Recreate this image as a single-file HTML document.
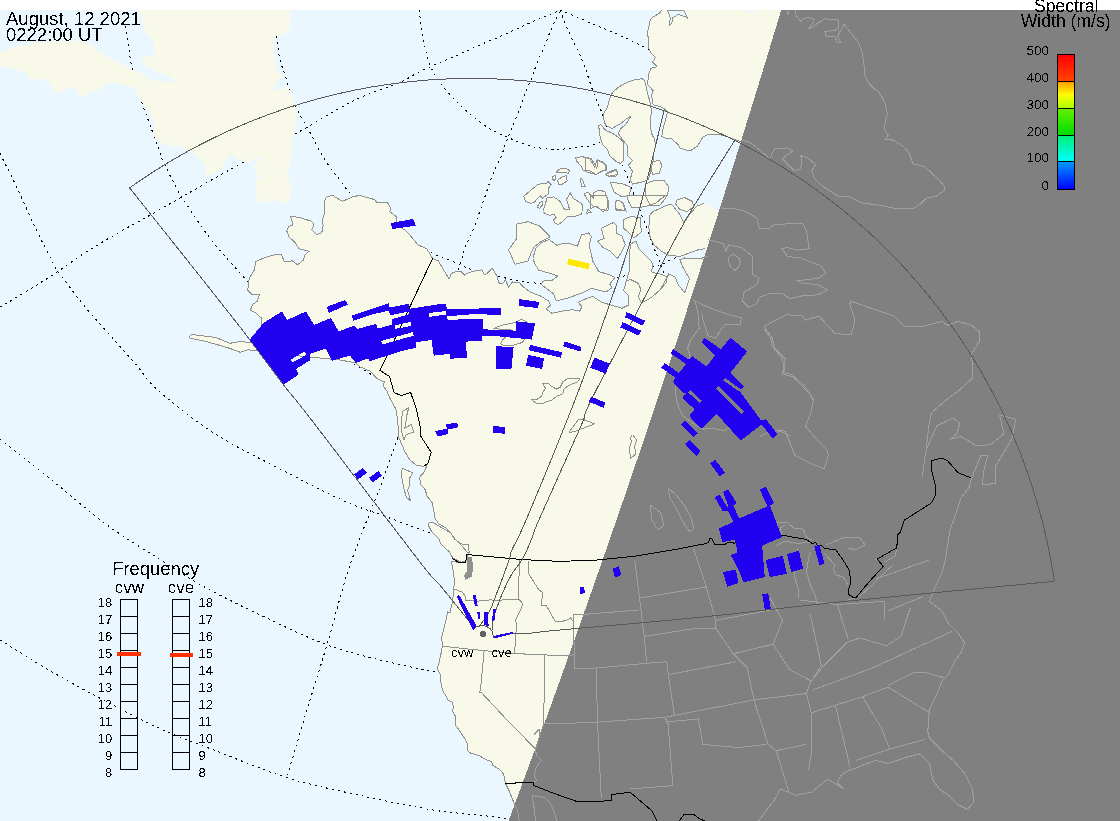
<!DOCTYPE html>
<html><head><meta charset="utf-8"><style>
html,body{margin:0;padding:0;background:#fff;width:1120px;height:821px;overflow:hidden}
svg{display:block;font-family:"Liberation Sans",sans-serif}
</style></head><body>
<svg width="1120" height="821" viewBox="0 0 1120 821" shape-rendering="crispEdges">
<defs><linearGradient id="g5" x1="0" y1="0" x2="0" y2="1"><stop offset="0.00" stop-color="#ff0000"/><stop offset="1.00" stop-color="#ff4400"/></linearGradient><linearGradient id="g4" x1="0" y1="0" x2="0" y2="1"><stop offset="0.00" stop-color="#ff9900"/><stop offset="0.50" stop-color="#ffff00"/><stop offset="1.00" stop-color="#aaff00"/></linearGradient><linearGradient id="g3" x1="0" y1="0" x2="0" y2="1"><stop offset="0.00" stop-color="#66ee00"/><stop offset="1.00" stop-color="#00dd00"/></linearGradient><linearGradient id="g2" x1="0" y1="0" x2="0" y2="1"><stop offset="0.00" stop-color="#00ee77"/><stop offset="1.00" stop-color="#00ffff"/></linearGradient><linearGradient id="g1" x1="0" y1="0" x2="0" y2="1"><stop offset="0.00" stop-color="#0099ff"/><stop offset="1.00" stop-color="#0000ff"/></linearGradient><filter id="crisp" x="0" y="0" width="1" height="1"><feComponentTransfer><feFuncA type="discrete" tableValues="0 1"/></feComponentTransfer></filter></defs>
<rect x="0" y="10" width="1120" height="811" fill="#eaf7ff"/>
<g fill="none" stroke="#000" stroke-width="1" stroke-dasharray="2 4" shape-rendering="crispEdges"><path d="M419.0,10.0 C419.8,15.3 422.2,32.8 424.0,42.0 C425.8,51.2 427.0,57.8 430.0,65.0 C433.0,72.2 436.7,78.0 442.0,85.0 C447.3,92.0 454.5,100.0 462.0,107.0 C469.5,114.0 479.5,122.0 487.0,127.0 C494.5,132.0 499.8,133.8 507.0,137.0 C514.2,140.2 522.8,144.0 530.0,146.0 C537.2,148.0 544.3,148.5 550.0,149.0 C555.7,149.5 559.2,149.3 564.0,149.0 C568.8,148.7 574.7,147.5 579.0,147.0 C583.3,146.5 586.8,146.6 590.0,146.0 C593.2,145.4 590.2,145.9 598.5,143.2 C606.8,140.5 633.1,132.2 640.0,130.0"/><path d="M276.0,36.5 C276.3,38.2 277.3,43.1 278.0,47.0 C278.7,50.9 278.8,55.3 280.0,60.0 C281.2,64.7 282.5,67.5 285.0,75.0 C287.5,82.5 291.3,96.3 295.0,105.0 C298.7,113.7 302.0,117.8 307.0,127.0 C312.0,136.2 319.5,151.2 325.0,160.0 C330.5,168.8 335.5,174.2 340.0,180.0 C344.5,185.8 343.7,187.0 352.0,195.0 C360.3,203.0 376.7,218.3 390.0,228.0 C403.3,237.7 422.8,248.0 432.0,253.0 C441.2,258.0 440.2,256.0 445.0,258.0 C449.8,260.0 456.2,262.9 461.0,265.0 C465.8,267.1 468.0,268.7 474.0,270.5 C480.0,272.3 490.2,274.4 497.0,276.0 C503.8,277.6 508.7,278.8 515.0,280.0 C521.3,281.2 527.5,282.5 535.0,283.0 C542.5,283.5 546.7,283.9 560.0,283.0 C573.3,282.1 603.8,278.8 615.0,277.5 C626.2,276.2 619.2,277.2 627.0,275.0 C634.8,272.8 654.8,266.5 662.0,264.0 C669.2,261.5 666.8,261.3 670.0,260.0 C673.2,258.7 677.7,257.2 681.0,256.0 C684.3,254.8 683.5,255.7 690.0,253.0 C696.5,250.3 715.0,242.2 720.0,240.0"/><path d="M125.6,26.0 C126.7,33.0 129.6,56.2 132.0,68.0 C134.4,79.8 137.0,87.5 140.0,97.0 C143.0,106.5 146.8,116.2 150.0,125.0 C153.2,133.8 156.9,144.2 159.0,150.0 C161.1,155.8 159.8,154.2 162.5,160.0 C165.2,165.8 171.2,178.0 175.0,185.0 C178.8,192.0 178.7,192.5 185.0,202.0 C191.3,211.5 202.5,228.7 213.0,242.0 C223.5,255.3 233.5,265.7 248.0,282.0 C262.5,298.3 283.0,326.7 300.0,340.0 C317.0,353.3 336.7,355.3 350.0,362.0 C363.3,368.7 375.0,377.0 380.0,380.0"/><path d="M0.0,153.6 C2.9,159.3 11.4,175.9 17.1,187.8 C22.8,199.8 28.4,213.4 34.1,225.3 C39.8,237.2 47.2,251.7 51.2,259.4 C55.2,267.1 52.3,263.4 58.0,271.4 C63.7,279.4 76.2,296.1 85.3,307.2 C94.4,318.3 104.1,328.2 112.6,337.9 C121.1,347.6 128.8,356.4 136.5,365.2 C144.2,374.0 145.5,379.4 158.6,390.8 C171.7,402.2 193.8,420.3 214.8,433.7 C235.8,447.1 263.1,460.1 284.6,471.3 C306.1,482.5 326.6,493.2 343.6,500.8 C360.6,508.4 372.3,511.5 386.6,516.9 C400.9,522.3 422.4,530.3 429.5,533.0"/><path d="M0.0,439.0 C9.0,446.2 36.2,467.7 54.0,482.0 C71.8,496.3 90.0,512.5 107.0,525.0 C124.0,537.5 140.7,547.2 156.0,557.0 C171.3,566.8 183.0,575.0 199.0,584.0 C215.0,593.0 231.5,601.2 252.0,611.0 C272.5,620.8 301.3,635.0 322.0,643.0 C342.7,651.0 356.3,654.0 376.0,659.0 C395.7,664.0 429.3,670.7 440.0,673.0"/><path d="M0.0,640.0 C9.0,645.5 36.2,662.7 54.0,673.0 C71.8,683.3 89.2,692.7 107.0,702.0 C124.8,711.3 143.0,720.9 161.0,729.0 C179.0,737.1 194.3,742.5 215.0,750.5 C235.7,758.5 262.7,769.9 285.0,777.0 C307.3,784.1 324.8,787.6 349.0,793.0 C373.2,798.4 408.5,805.8 430.0,809.5 C451.5,813.2 465.1,813.5 478.0,815.0 C490.9,816.5 502.6,817.9 507.5,818.5"/><path d="M0.0,307.2 C5.7,303.8 24.4,292.7 34.1,286.7 C43.8,280.7 49.5,277.1 58.0,271.4 C66.5,265.7 75.1,259.1 85.3,252.6 C95.5,246.1 108.6,238.3 119.4,232.1 C130.2,225.8 134.2,224.1 150.1,215.1 C166.0,206.1 199.7,186.7 215.0,178.0 C230.3,169.3 228.7,170.3 242.0,163.0 C255.3,155.7 284.2,139.9 295.0,134.0 C305.8,128.1 297.0,133.2 307.0,127.5 C317.0,121.8 339.5,107.5 355.0,100.0 C370.5,92.5 390.6,86.5 400.0,82.5 C409.4,78.5 406.5,78.7 411.7,76.0 C416.9,73.3 424.0,69.5 431.2,66.3 C438.4,63.0 446.8,59.9 454.6,56.5 C462.4,53.1 469.9,49.4 478.0,45.8 C486.1,42.2 494.9,38.8 503.3,35.1 C511.8,31.4 520.6,27.0 528.7,23.4 C536.8,19.8 547.1,15.7 552.0,13.6 C556.9,11.5 557.0,11.4 558.0,11.0"/><path d="M559.8,11.7 C558.5,14.3 554.6,21.5 552.0,27.3 C549.4,33.1 546.8,40.6 544.2,46.8 C541.6,53.0 538.4,59.4 536.5,64.3 C534.6,69.2 534.2,71.8 532.6,76.0 C531.0,80.2 528.7,84.8 526.7,89.7 C524.8,94.6 522.9,100.1 520.9,105.3 C518.9,110.5 517.0,116.0 515.0,120.9 C513.0,125.8 510.8,130.6 509.2,134.5 C507.6,138.4 506.6,140.6 505.3,144.2 C504.0,147.8 503.5,150.8 501.4,155.9 C499.3,161.0 495.4,167.7 492.5,175.0 C489.6,182.3 486.4,192.5 483.8,200.0 C481.1,207.5 478.9,213.9 476.7,220.0 C474.5,226.1 472.4,231.7 470.3,236.6 C468.2,241.5 465.6,244.9 463.9,249.4 C462.2,253.9 465.8,246.7 460.1,263.5 C454.5,280.3 440.4,321.0 430.0,350.0 C419.6,379.0 404.9,418.4 397.9,437.7 C390.8,457.0 390.7,457.3 387.7,465.8 C384.7,474.3 382.0,483.4 380.0,488.8 C378.0,494.2 381.0,484.8 375.8,498.0 C370.6,511.2 357.1,543.8 349.0,568.0 C340.9,592.2 334.7,618.8 327.5,643.0 C320.3,667.2 312.8,690.7 306.0,713.0 C299.2,735.3 290.2,766.3 287.0,777.0"/><path d="M560.0,10.0 C562.5,11.0 569.4,13.8 575.0,16.2 C580.6,18.6 587.9,21.9 593.8,24.4 C599.6,26.9 604.4,28.9 610.0,31.2 C615.6,33.6 621.7,36.0 627.5,38.8 C633.3,41.5 632.9,41.5 645.0,47.5 C657.1,53.5 690.8,70.4 700.0,75.0"/><path d="M560.0,10.0 C561.2,13.1 565.0,22.9 567.5,28.8 C570.0,34.6 572.9,40.6 575.0,45.0 C577.1,49.4 578.3,51.2 580.0,55.0 C581.7,58.8 583.3,62.9 585.0,67.5 C586.7,72.1 588.3,77.5 590.0,82.5 C591.7,87.5 593.5,93.2 595.3,97.7 C597.1,102.2 599.6,106.7 600.8,109.6 C602.0,112.5 598.7,105.8 602.4,115.2 C606.1,124.6 618.4,154.5 623.0,166.0 C627.6,177.5 626.8,175.5 630.0,184.0 C633.2,192.5 639.7,209.5 642.5,217.0 C645.3,224.5 645.1,223.8 647.0,229.0 C648.9,234.2 652.0,242.8 654.0,248.0 C656.0,253.2 657.0,254.8 659.0,260.0 C661.0,265.2 662.5,270.7 666.0,279.0 C669.5,287.3 677.7,304.8 680.0,310.0"/></g>
<g fill="#f9f9ea"><path d="M139,10 L290,10 L290,28 L284,35 L276,36 L273,43 L275,56 L277,72 L284,76 L279,79 L272,89 L279,90 L288,86 L293,98 L296,112 L295,129 L292,141 L291,160 L290,164 L287,175 L291,184 L290,200 L282,203 L275,200 L259,203 L256,195 L256,182 L259,177 L254,167 L260,158 L257,157 L248,163 L235,158 L232,153 L229,154 L227,160 L217,173 L206,176 L206,167 L202,160 L193,153 L182,147 L175,146 L164,144 L157,139 L152,135 L155,128 L153,117 L146,108 L141,99 L137,95 L135,88 L128,86 L111,82 L104,84 L102,89 L91,91 L86,95 L79,97 L77,89 L69,88 L58,93 L53,91 L51,84 L42,79 L29,79 L27,73 L11,68 L0,67 L0,53 L11,48 L27,44 L55,41 L82,41 L91,44 L99,51 L110,58 L120,63 L131,69 L141,73 L150,80 L164,82 L174,83 L173,80 L168,75 L159,73 L146,66 L141,60 L146,57 L155,55 L155,47 L153,40 L146,33 Z" /><path d="M325.7,197.6 L332.1,195 L342.3,201.4 L353.8,196.3 L360.2,195.6 L374.3,199.5 L377.1,202.5 L387.5,202.5 L390.7,208.6 L389.6,211.8 L394.3,215 L396.8,217.5 L396.8,221.8 L402.1,228.2 L405.7,230.7 L409,234.1 L412.9,238.6 L417.9,244.9 L426.9,248.8 L432.6,258.4 L438.4,260.9 L443.5,269.9 L449.2,278.8 L451.2,273.7 L456.3,271.2 L461.4,271.8 L464.6,275 L469.1,272.4 L476.7,270.5 L481.8,269.9 L484.4,275 L487,273.7 L492.1,268 L497.2,276.3 L498.5,282.7 L502.3,283.9 L505.5,280.1 L508.7,287.1 L512.5,282 L519.6,282.7 L522.8,286.5 L530,292 L540.2,295.8 L548.3,300.9 L550.5,305.3 L546.1,308.9 L551.9,313.3 L562.2,311.1 L572.4,309.6 L579.7,311.1 L581.9,306.7 L578.2,302.3 L586.3,298.7 L592.9,296.5 L601.6,302.3 L611.9,305.3 L622.1,308.2 L628,305.3 L628,295 L623.6,290.6 L626.5,280.4 L630.9,279.7 L638.2,283.3 L641.1,289.9 L638.2,296.5 L641.1,302.3 L645.5,300.9 L652,297 L660,290 L665.6,280.2 L668.8,273.9 L675.1,277 L678.3,284.9 L684.6,292.8 L689.4,278.6 L683,267.5 L679.9,259.6 L684.6,258 L690,258.2 L694.6,259 L702.2,258.2 L705.2,256.7 L707.5,256 L760,249 L1120,290 L1120,821 L530,821 L513.8,802.5 L508.9,790.2 L505.2,782.8 L504.6,777.8 L502.8,772.9 L499.1,769.2 L492.9,765.5 L491.7,761.8 L485.5,759.4 L479.4,755.7 L470.8,753.2 L467.7,750.8 L467.1,743.4 L464.6,738.5 L459.7,731.1 L455.5,725 L455.6,716.5 L452.7,711.4 L453.4,706.3 L451.9,701.9 L448.3,700.4 L446.1,696 L442.4,690.2 L441,682.9 L440.2,674.1 L437.3,668.2 L438.8,663.9 L441,653.6 L442.4,646.3 L441.7,637.5 L443.9,628.8 L446.1,620 L447.5,612 L450.1,612.1 L452.6,601.8 L453.9,587.8 L454.5,580.1 L453.2,571.2 L451.3,561.6 L458.4,562.2 L465.4,562.8 L466.7,557.1 L468.6,553.9 L462,546 L455,539 L450.7,532.8 L445.6,527.7 L438.8,524 L435,518.2 L432.4,502.9 L427.3,496.5 L424.8,488.8 L420.9,485 L419.6,477.3 L424.1,472.2 L427.3,464.5 L423.5,466.4 L416,465 L410,460 L405,452 L402,445 L399,438 L398.5,429.5 L397.2,416.7 L395.9,409.1 L389.5,397.5 L387,391.2 L383.1,386 L384.4,381.6 L381.8,380.9 L376.7,378.4 L370.3,371.3 L360.1,366.9 L356.3,363 L340,360 L320,358 L300,356 L285,352 L268,350 L256.7,351 L247.8,349.7 L240.1,352.2 L229.9,348.4 L217.1,344.6 L203,340.7 L190.2,338.2 L189.6,336.3 L191.5,334.3 L200.5,335.6 L215.8,337.5 L229.9,343.3 L240.1,341.4 L250.3,342.7 L258,338 L261.8,325.4 L261.8,318.4 L255.4,312.6 L250.3,310 L252.9,304.3 L257.4,301.1 L259.3,294.7 L251.6,294.1 L247.8,290.2 L249,280 L250.2,276.8 L254.1,270.4 L256,261.5 L264.3,257.7 L275.8,254.5 L281.6,254.5 L284.1,261.5 L292.4,260.9 L297.5,264.7 L303.3,260.2 L305.2,254.5 L309.1,251.3 L298.8,248.7 L295,242.3 L289.2,237.2 L286.7,230.8 L288.6,226.3 L293.1,225 L291.8,220.6 L290.5,216.1 L298.8,217.4 L311.6,221.2 L314.2,225 L311.6,229.5 L316.7,234.6 L321.8,232.7 L323.1,225.7 L322.5,219.3 L325,212.9 L324.4,202.7 Z" /><path d="M661.8,10 L800,10 L800,160 L741,141.5 L736,140 L725,136 L717,134 L709,134 L703,137 L697.5,146 L690,151 L686,150 L680,148 L678,144.5 L672,139 L667.4,138.9 L661.8,136.5 L662.6,130.2 L665.8,119.1 L667.4,112 L664.2,108.8 L659.5,106.4 L653.1,104.9 L651.5,95.4 L653.1,90.6 L647.6,84.3 L648.6,74.5 L650.9,68.3 L657.1,66.8 L652.5,62.1 L655.6,57.5 L650.9,52.9 L648.6,48.2 L648.6,38.9 L647.1,32.7 L648.6,28.1 L650.2,20.4 L652.5,17.3 L659.4,13.4 Z" /><path d="M612.7,92.2 L618.3,87.4 L626.2,82.7 L635.7,79.5 L642,78.7 L644.4,80.3 L646,85.8 L647.6,93.8 L650,101.7 L651.5,111.2 L650,122.3 L651.5,133.4 L654.7,139.7 L655.5,146.1 L653.9,152.4 L653.1,160.3 L651,170 L648.4,179.3 L643.6,181.7 L632.5,184.1 L630.2,179.3 L632.5,171.4 L628.6,165.1 L632.5,160.3 L627.8,155.6 L627.8,146.1 L623.8,141.3 L618.3,133.4 L620.7,128.6 L626.2,123.9 L631,116 L626.2,119.1 L619.9,123.9 L611.9,128.6 L605.6,125.5 L603.2,117.5 L604,112.8 L607.2,108 L608.8,101.7 L611.1,95.4 Z" /><path d="M598.5,125.5 L600.8,124.7 L605.6,130.2 L612.7,133.4 L618,137 L623,141.3 L624,148 L623.8,154 L623.8,160.3 L620.7,163.5 L616.7,161.9 L609.6,155.6 L607.2,149.2 L602.4,144.5 L600.1,136.5 L599.3,130.2 Z" /><path d="M651.5,161.9 L659.5,160.3 L661.8,165.1 L659.5,173 L653.1,174.6 L650,168 Z" /><path d="M645.2,184.1 L653.1,180.9 L664.2,180.9 L669,187.3 L667.4,195.2 L664.2,200 L660,205 L650,205 L646,197 Z" /><path d="M585,157.1 L591.3,158.7 L596.9,168.2 L597.7,160.3 L602.4,161.9 L605.6,165.1 L605.6,169.8 L596.1,174.6 L585,171.4 Z" /><path d="M605.6,174.6 L616.7,169.8 L617.5,174.6 L608.8,176.2 Z" /><path d="M610.4,182.5 L621.4,183.3 L631,187.3 L629.4,195.2 L622,197 L614,192 Z" /><path d="M523.7,196.3 L532,189.2 L538.4,184.1 L546.7,183.5 L548,181.6 L551.2,184.8 L548.6,188 L548.6,193.7 L542.8,198.2 L540.3,195.6 L537.7,198.2 L533.9,202.7 L530.7,203.3 L525.6,201.4 Z" /><path d="M537.1,207.1 L539.6,202.7 L542.2,201.4 L542.2,205.2 L539.6,208.4 Z" /><path d="M542.8,211.6 L547.3,197.5 L553.7,196.9 L560.1,201.4 L564.6,209.7 L569.7,209.7 L566.5,199.5 L570.3,193.1 L573.5,198.8 L580.6,202.7 L582.5,205.2 L581.8,214.2 L574.2,216.7 L567.1,216.7 L561.4,222.5 L558.2,224.4 L555,223.1 L553.7,219.9 L556.3,217.4 L553.7,214.2 L549.9,215.4 L546,214.2 Z" /><path d="M551.8,177.7 L555,175.2 L555.6,179.6 L553.7,180.3 Z" /><path d="M557.5,180.3 L562.7,176.4 L566.5,175.8 L567.1,180.9 L561.4,184.8 L558.8,184.1 Z" /><path d="M556.3,172 L560.1,168.8 L565.2,168.1 L569.7,170.7 L568.4,173.2 L562.7,172.6 L556.9,172.6 Z" /><path d="M579.9,179 L581.8,178.4 L585,186 L581.8,186 Z" /><path d="M575.4,157.9 L581.8,156.6 L589.5,158.5 L594.6,166.9 L597.2,159.8 L606.1,164.9 L606.8,170.1 L601,171.3 L595.9,174.5 L589.5,170.7 L583.1,170.1 L580.6,165.6 L576.7,161.1 Z" /><path d="M604.9,174.5 L611.3,170.7 L616.4,169.4 L617.6,173.2 L615.7,176.4 L610,176.4 Z" /><path d="M583.8,193.7 L588.2,192.4 L593.4,198.2 L594,192.4 L599.1,189.9 L604.9,191.8 L608.1,200.1 L608.7,209.7 L602.3,211.6 L597.2,206.5 L593.4,206.5 L589.5,202.7 Z" /><path d="M586.3,213.5 L588.2,209.1 L590.8,212.2 Z" /><path d="M615.1,201.4 L618.9,200.1 L623.4,203.9 L626,211 L616.4,210.3 Z" /><path d="M516.6,224.1 L527.9,221.7 L539.1,225.7 L550.3,237 L542,241 L534.3,246.6 L531.1,253 L527.9,261 L515,264.3 L508.6,249.8 L516.6,238.6 Z" /><path d="M532.9,258.5 L535.8,248.2 L541,243 L549,239.5 L557,245.3 L563.6,243.1 L570.9,243.9 L577.5,246.1 L581.2,235.1 L588.5,232.9 L591.4,236.5 L589.2,245.3 L592.9,261.4 L598.7,271.6 L608.9,274.6 L614.8,277.5 L609.7,284.1 L611.9,287.7 L606,292.1 L598,290 L591.4,288.5 L584.1,292.1 L568,298 L556.3,300.9 L553.4,293.6 L541.7,284.8 L542.4,281.1 L551.9,280.4 L557.8,276 L549,273.1 L538.8,270.2 L535.1,264.3 Z" /><path d="M623.9,219.3 L630.9,216.7 L640.5,217.4 L641.2,232.1 L634.1,237.9 L623.9,228.3 Z" /><path d="M601.5,228.3 L606.6,225.7 L613.7,222.5 L616.9,225.7 L616.9,233.4 L622,235.9 L625.2,244.9 L622,251.3 L617.5,258.3 L610.5,251.3 L602.8,247.5 L597.7,241.1 L604.1,238.5 L602.2,232.1 Z" /><path d="M590,195 L606.6,195 L607.9,202.7 L606.6,210.4 L600.2,209.1 L595.1,206.5 L590,209.1 Z" /><path d="M615,202 L618.8,200.1 L622.6,202.7 L625.2,210.4 L615.6,209.1 Z" /><path d="M627.1,195 L666.8,195 L661.6,198.2 L656.5,202.7 L647.6,205.9 L638.6,207.8 L632.2,207.8 L628.4,201.4 Z" /><path d="M650.1,214.2 L652.7,211.6 L661.6,207.8 L666.8,205.2 L671.9,204.6 L679.5,214.2 L683.4,221.9 L696.2,206.5 L703.9,203.3 L712,207.8 L740,220 L720,248 L705.1,248.7 L697.5,250 L687.2,253.8 L679.5,256.4 L668,255.1 L661.6,251.3 L654,244.9 L650.1,237.2 L648.8,227 Z" /><path d="M677,200.1 L684.7,197.6 L692.3,201.4 L693.6,206.5 L687.2,211.6 L679.5,209.1 L675.7,204 Z" /><path d="M630.9,244 L636,241 L638.6,248.7 L645,255.1 L651.4,261.5 L652.7,265.4 L651.4,271.8 L655.2,273 L661.6,274.3 L666.8,276.9 L666.8,282 L660,290 L652,297 L645.5,300.9 L641.1,302.3 L638.2,296.5 L641.1,289.9 L638.2,283.3 L630.9,279.7 L626.5,280.4 L629.7,269.2 L629,255.1 Z" /><path d="M428.3,523.2 L432.1,521.9 L440.5,527 L450.7,532.8 L454.5,539.2 L462.2,544.3 L468,544.3 L469.2,552 L466,560.9 L460.9,562.2 L453.2,558.4 L449.4,552 L440.5,543.7 L439.2,539.2 L431.5,531.5 L429,526.4 Z" /><path d="M402.4,468.4 L412.6,472.8 L409.4,478.6 L409.4,486.3 L407.5,490.1 L410.7,501 L406.2,497.1 L403.7,487.5 L401.1,474.8 Z" /><path d="M402.3,411.6 L408.7,407.8 L406.8,415.4 L404.9,428.2 L411.3,424.4 L413.8,432.1 L406.1,434.6 L404,440 L401,430 Z" /></g>
<g fill="#eaf7ff"><path d="M667.2,10 L670.3,17.3 L669.5,25 L671.8,23.5 L672.6,17.3 L675.7,16.5 L678,14.2 L686.5,17.3 L688.1,18.8 L683.4,10 Z" /><path d="M746.8,10 L749.2,12.6 L753,13.4 L755.3,10 Z" /></g>
<path d="M781.222,10 L778.809,18 L776.392,26 L773.968,34 L771.54,42 L769.106,50 L766.666,58 L764.221,66 L761.771,74 L759.315,82 L756.854,90 L754.387,98 L751.915,106 L749.437,114 L746.954,122 L744.466,130 L741.972,138 L739.472,146 L736.967,154 L734.457,162 L731.941,170 L729.419,178 L726.892,186 L724.36,194 L721.822,202 L719.279,210 L716.73,218 L714.175,226 L711.616,234 L709.05,242 L706.479,250 L703.903,258 L701.321,266 L698.733,274 L696.14,282 L693.542,290 L690.938,298 L688.328,306 L685.713,314 L683.092,322 L680.466,330 L677.834,338 L675.197,346 L672.554,354 L669.905,362 L667.251,370 L664.592,378 L661.926,386 L659.256,394 L656.579,402 L653.897,410 L651.21,418 L648.517,426 L645.818,434 L643.114,442 L640.404,450 L637.688,458 L634.967,466 L632.241,474 L629.508,482 L626.77,490 L624.027,498 L621.278,506 L618.523,514 L615.762,522 L612.996,530 L610.224,538 L607.447,546 L604.664,554 L601.875,562 L599.081,570 L596.281,578 L593.475,586 L590.664,594 L587.847,602 L585.025,610 L582.196,618 L579.362,626 L576.522,634 L573.677,642 L570.826,650 L567.969,658 L565.107,666 L562.239,674 L559.365,682 L556.485,690 L553.6,698 L550.709,706 L547.812,714 L544.909,722 L542.001,730 L539.087,738 L536.168,746 L533.242,754 L530.311,762 L527.374,770 L524.431,778 L521.483,786 L518.529,794 L515.569,802 L512.603,810 L509.631,818 L508.516,821 L1120,821 L1120,10 Z" fill="#808080"/>
<clipPath id="nclip"><path d="M781.222,10 L778.809,18 L776.392,26 L773.968,34 L771.54,42 L769.106,50 L766.666,58 L764.221,66 L761.771,74 L759.315,82 L756.854,90 L754.387,98 L751.915,106 L749.437,114 L746.954,122 L744.466,130 L741.972,138 L739.472,146 L736.967,154 L734.457,162 L731.941,170 L729.419,178 L726.892,186 L724.36,194 L721.822,202 L719.279,210 L716.73,218 L714.175,226 L711.616,234 L709.05,242 L706.479,250 L703.903,258 L701.321,266 L698.733,274 L696.14,282 L693.542,290 L690.938,298 L688.328,306 L685.713,314 L683.092,322 L680.466,330 L677.834,338 L675.197,346 L672.554,354 L669.905,362 L667.251,370 L664.592,378 L661.926,386 L659.256,394 L656.579,402 L653.897,410 L651.21,418 L648.517,426 L645.818,434 L643.114,442 L640.404,450 L637.688,458 L634.967,466 L632.241,474 L629.508,482 L626.77,490 L624.027,498 L621.278,506 L618.523,514 L615.762,522 L612.996,530 L610.224,538 L607.447,546 L604.664,554 L601.875,562 L599.081,570 L596.281,578 L593.475,586 L590.664,594 L587.847,602 L585.025,610 L582.196,618 L579.362,626 L576.522,634 L573.677,642 L570.826,650 L567.969,658 L565.107,666 L562.239,674 L559.365,682 L556.485,690 L553.6,698 L550.709,706 L547.812,714 L544.909,722 L542.001,730 L539.087,738 L536.168,746 L533.242,754 L530.311,762 L527.374,770 L524.431,778 L521.483,786 L518.529,794 L515.569,802 L512.603,810 L509.631,818 L508.516,821 L1120,821 L1120,10 Z" /></clipPath>
<g fill="none" stroke="#909090" stroke-width="1"><path d="M325.7,197.6 L332.1,195 L342.3,201.4 L353.8,196.3 L360.2,195.6 L374.3,199.5 L377.1,202.5 L387.5,202.5 L390.7,208.6 L389.6,211.8 L394.3,215 L396.8,217.5 L396.8,221.8 L402.1,228.2 L405.7,230.7 L409,234.1 L412.9,238.6 L417.9,244.9 L426.9,248.8 L432.6,258.4 L438.4,260.9 L443.5,269.9 L449.2,278.8 L451.2,273.7 L456.3,271.2 L461.4,271.8 L464.6,275 L469.1,272.4 L476.7,270.5 L481.8,269.9 L484.4,275 L487,273.7 L492.1,268 L497.2,276.3 L498.5,282.7 L502.3,283.9 L505.5,280.1 L508.7,287.1 L512.5,282 L519.6,282.7 L522.8,286.5 L530,292 L540.2,295.8 L548.3,300.9 L550.5,305.3 L546.1,308.9 L551.9,313.3 L562.2,311.1 L572.4,309.6 L579.7,311.1 L581.9,306.7 L578.2,302.3 L586.3,298.7 L592.9,296.5 L601.6,302.3 L611.9,305.3 L622.1,308.2 L628,305.3 L628,295 L623.6,290.6 L626.5,280.4 L630.9,279.7 L638.2,283.3 L641.1,289.9 L638.2,296.5 L641.1,302.3 L645.5,300.9 L652,297 L660,290 L665.6,280.2 L668.8,273.9 L675.1,277 L678.3,284.9 L684.6,292.8 L689.4,278.6 L683,267.5 L679.9,259.6 L684.6,258 L690,258.2 L694.6,259 L702.2,258.2 L705.2,256.7 L707.5,256 M513.8,802.5 L508.9,790.2 L505.2,782.8 L504.6,777.8 L502.8,772.9 L499.1,769.2 L492.9,765.5 L491.7,761.8 L485.5,759.4 L479.4,755.7 L470.8,753.2 L467.7,750.8 L467.1,743.4 L464.6,738.5 L459.7,731.1 L455.5,725 L455.6,716.5 L452.7,711.4 L453.4,706.3 L451.9,701.9 L448.3,700.4 L446.1,696 L442.4,690.2 L441,682.9 L440.2,674.1 L437.3,668.2 L438.8,663.9 L441,653.6 L442.4,646.3 L441.7,637.5 L443.9,628.8 L446.1,620 L447.5,612 L450.1,612.1 L452.6,601.8 L453.9,587.8 L454.5,580.1 L453.2,571.2 L451.3,561.6 L458.4,562.2 L465.4,562.8 L466.7,557.1 L468.6,553.9 L462,546 L455,539 L450.7,532.8 L445.6,527.7 L438.8,524 L435,518.2 L432.4,502.9 L427.3,496.5 L424.8,488.8 L420.9,485 L419.6,477.3 L424.1,472.2 L427.3,464.5 L423.5,466.4 L416,465 L410,460 L405,452 L402,445 L399,438 L398.5,429.5 L397.2,416.7 L395.9,409.1 L389.5,397.5 L387,391.2 L383.1,386 L384.4,381.6 L381.8,380.9 L376.7,378.4 L370.3,371.3 L360.1,366.9 L356.3,363 L340,360 L320,358 L300,356 L285,352 L268,350 L256.7,351 L247.8,349.7 L240.1,352.2 L229.9,348.4 L217.1,344.6 L203,340.7 L190.2,338.2 L189.6,336.3 L191.5,334.3 L200.5,335.6 L215.8,337.5 L229.9,343.3 L240.1,341.4 L250.3,342.7 L258,338 L261.8,325.4 L261.8,318.4 L255.4,312.6 L250.3,310 L252.9,304.3 L257.4,301.1 L259.3,294.7 L251.6,294.1 L247.8,290.2 L249,280 L250.2,276.8 L254.1,270.4 L256,261.5 L264.3,257.7 L275.8,254.5 L281.6,254.5 L284.1,261.5 L292.4,260.9 L297.5,264.7 L303.3,260.2 L305.2,254.5 L309.1,251.3 L298.8,248.7 L295,242.3 L289.2,237.2 L286.7,230.8 L288.6,226.3 L293.1,225 L291.8,220.6 L290.5,216.1 L298.8,217.4 L311.6,221.2 L314.2,225 L311.6,229.5 L316.7,234.6 L321.8,232.7 L323.1,225.7 L322.5,219.3 L325,212.9 L324.4,202.7 L325.7,197.6"/><path d="M741,141.5 L736,140 L725,136 L717,134 L709,134 L703,137 L697.5,146 L690,151 L686,150 L680,148 L678,144.5 L672,139 L667.4,138.9 L661.8,136.5 L662.6,130.2 L665.8,119.1 L667.4,112 L664.2,108.8 L659.5,106.4 L653.1,104.9 L651.5,95.4 L653.1,90.6 L647.6,84.3 L648.6,74.5 L650.9,68.3 L657.1,66.8 L652.5,62.1 L655.6,57.5 L650.9,52.9 L648.6,48.2 L648.6,38.9 L647.1,32.7 L648.6,28.1 L650.2,20.4 L652.5,17.3 L659.4,13.4 L661.8,10"/><path d="M612.7,92.2 L618.3,87.4 L626.2,82.7 L635.7,79.5 L642,78.7 L644.4,80.3 L646,85.8 L647.6,93.8 L650,101.7 L651.5,111.2 L650,122.3 L651.5,133.4 L654.7,139.7 L655.5,146.1 L653.9,152.4 L653.1,160.3 L651,170 L648.4,179.3 L643.6,181.7 L632.5,184.1 L630.2,179.3 L632.5,171.4 L628.6,165.1 L632.5,160.3 L627.8,155.6 L627.8,146.1 L623.8,141.3 L618.3,133.4 L620.7,128.6 L626.2,123.9 L631,116 L626.2,119.1 L619.9,123.9 L611.9,128.6 L605.6,125.5 L603.2,117.5 L604,112.8 L607.2,108 L608.8,101.7 L611.1,95.4 L612.7,92.2"/><path d="M598.5,125.5 L600.8,124.7 L605.6,130.2 L612.7,133.4 L618,137 L623,141.3 L624,148 L623.8,154 L623.8,160.3 L620.7,163.5 L616.7,161.9 L609.6,155.6 L607.2,149.2 L602.4,144.5 L600.1,136.5 L599.3,130.2 L598.5,125.5"/><path d="M651.5,161.9 L659.5,160.3 L661.8,165.1 L659.5,173 L653.1,174.6 L650,168 L651.5,161.9"/><path d="M645.2,184.1 L653.1,180.9 L664.2,180.9 L669,187.3 L667.4,195.2 L664.2,200 L660,205 L650,205 L646,197 L645.2,184.1"/><path d="M585,157.1 L591.3,158.7 L596.9,168.2 L597.7,160.3 L602.4,161.9 L605.6,165.1 L605.6,169.8 L596.1,174.6 L585,171.4 L585,157.1"/><path d="M605.6,174.6 L616.7,169.8 L617.5,174.6 L608.8,176.2 L605.6,174.6"/><path d="M610.4,182.5 L621.4,183.3 L631,187.3 L629.4,195.2 L622,197 L614,192 L610.4,182.5"/><path d="M523.7,196.3 L532,189.2 L538.4,184.1 L546.7,183.5 L548,181.6 L551.2,184.8 L548.6,188 L548.6,193.7 L542.8,198.2 L540.3,195.6 L537.7,198.2 L533.9,202.7 L530.7,203.3 L525.6,201.4 L523.7,196.3"/><path d="M537.1,207.1 L539.6,202.7 L542.2,201.4 L542.2,205.2 L539.6,208.4 L537.1,207.1"/><path d="M542.8,211.6 L547.3,197.5 L553.7,196.9 L560.1,201.4 L564.6,209.7 L569.7,209.7 L566.5,199.5 L570.3,193.1 L573.5,198.8 L580.6,202.7 L582.5,205.2 L581.8,214.2 L574.2,216.7 L567.1,216.7 L561.4,222.5 L558.2,224.4 L555,223.1 L553.7,219.9 L556.3,217.4 L553.7,214.2 L549.9,215.4 L546,214.2 L542.8,211.6"/><path d="M551.8,177.7 L555,175.2 L555.6,179.6 L553.7,180.3 L551.8,177.7"/><path d="M557.5,180.3 L562.7,176.4 L566.5,175.8 L567.1,180.9 L561.4,184.8 L558.8,184.1 L557.5,180.3"/><path d="M556.3,172 L560.1,168.8 L565.2,168.1 L569.7,170.7 L568.4,173.2 L562.7,172.6 L556.9,172.6 L556.3,172"/><path d="M579.9,179 L581.8,178.4 L585,186 L581.8,186 L579.9,179"/><path d="M575.4,157.9 L581.8,156.6 L589.5,158.5 L594.6,166.9 L597.2,159.8 L606.1,164.9 L606.8,170.1 L601,171.3 L595.9,174.5 L589.5,170.7 L583.1,170.1 L580.6,165.6 L576.7,161.1 L575.4,157.9"/><path d="M604.9,174.5 L611.3,170.7 L616.4,169.4 L617.6,173.2 L615.7,176.4 L610,176.4 L604.9,174.5"/><path d="M583.8,193.7 L588.2,192.4 L593.4,198.2 L594,192.4 L599.1,189.9 L604.9,191.8 L608.1,200.1 L608.7,209.7 L602.3,211.6 L597.2,206.5 L593.4,206.5 L589.5,202.7 L583.8,193.7"/><path d="M586.3,213.5 L588.2,209.1 L590.8,212.2 L586.3,213.5"/><path d="M615.1,201.4 L618.9,200.1 L623.4,203.9 L626,211 L616.4,210.3 L615.1,201.4"/><path d="M516.6,224.1 L527.9,221.7 L539.1,225.7 L550.3,237 L542,241 L534.3,246.6 L531.1,253 L527.9,261 L515,264.3 L508.6,249.8 L516.6,238.6 L516.6,224.1"/><path d="M532.9,258.5 L535.8,248.2 L541,243 L549,239.5 L557,245.3 L563.6,243.1 L570.9,243.9 L577.5,246.1 L581.2,235.1 L588.5,232.9 L591.4,236.5 L589.2,245.3 L592.9,261.4 L598.7,271.6 L608.9,274.6 L614.8,277.5 L609.7,284.1 L611.9,287.7 L606,292.1 L598,290 L591.4,288.5 L584.1,292.1 L568,298 L556.3,300.9 L553.4,293.6 L541.7,284.8 L542.4,281.1 L551.9,280.4 L557.8,276 L549,273.1 L538.8,270.2 L535.1,264.3 L532.9,258.5"/><path d="M623.9,219.3 L630.9,216.7 L640.5,217.4 L641.2,232.1 L634.1,237.9 L623.9,228.3 L623.9,219.3"/><path d="M601.5,228.3 L606.6,225.7 L613.7,222.5 L616.9,225.7 L616.9,233.4 L622,235.9 L625.2,244.9 L622,251.3 L617.5,258.3 L610.5,251.3 L602.8,247.5 L597.7,241.1 L604.1,238.5 L602.2,232.1 L601.5,228.3"/><path d="M590,195 L606.6,195 L607.9,202.7 L606.6,210.4 L600.2,209.1 L595.1,206.5 L590,209.1 L590,195"/><path d="M615,202 L618.8,200.1 L622.6,202.7 L625.2,210.4 L615.6,209.1 L615,202"/><path d="M627.1,195 L666.8,195 L661.6,198.2 L656.5,202.7 L647.6,205.9 L638.6,207.8 L632.2,207.8 L628.4,201.4 L627.1,195"/><path d="M650.1,214.2 L652.7,211.6 L661.6,207.8 L666.8,205.2 L671.9,204.6 L679.5,214.2 L683.4,221.9 L696.2,206.5 L703.9,203.3 M705.1,248.7 L697.5,250 L687.2,253.8 L679.5,256.4 L668,255.1 L661.6,251.3 L654,244.9 L650.1,237.2 L648.8,227 L650.1,214.2"/><path d="M677,200.1 L684.7,197.6 L692.3,201.4 L693.6,206.5 L687.2,211.6 L679.5,209.1 L675.7,204 L677,200.1"/><path d="M630.9,244 L636,241 L638.6,248.7 L645,255.1 L651.4,261.5 L652.7,265.4 L651.4,271.8 L655.2,273 L661.6,274.3 L666.8,276.9 L666.8,282 L660,290 L652,297 L645.5,300.9 L641.1,302.3 L638.2,296.5 L641.1,289.9 L638.2,283.3 L630.9,279.7 L626.5,280.4 L629.7,269.2 L629,255.1 L630.9,244"/><path d="M428.3,523.2 L432.1,521.9 L440.5,527 L450.7,532.8 L454.5,539.2 L462.2,544.3 L468,544.3 L469.2,552 L466,560.9 L460.9,562.2 L453.2,558.4 L449.4,552 L440.5,543.7 L439.2,539.2 L431.5,531.5 L429,526.4 L428.3,523.2"/><path d="M402.4,468.4 L412.6,472.8 L409.4,478.6 L409.4,486.3 L407.5,490.1 L410.7,501 L406.2,497.1 L403.7,487.5 L401.1,474.8 L402.4,468.4"/><path d="M402.3,411.6 L408.7,407.8 L406.8,415.4 L404.9,428.2 L411.3,424.4 L413.8,432.1 L406.1,434.6 L404,440 L401,430 L402.3,411.6"/><path d="M667.2,10 L670.3,17.3 L669.5,25 L671.8,23.5 L672.6,17.3 L675.7,16.5 L678,14.2 L686.5,17.3 L688.1,18.8 L683.4,10 Z" /></g>
<g fill="none" stroke="#a0a0a0" stroke-width="1" clip-path="url(#nclip)"><path d="M325.7,197.6 L332.1,195 L342.3,201.4 L353.8,196.3 L360.2,195.6 L374.3,199.5 L377.1,202.5 L387.5,202.5 L390.7,208.6 L389.6,211.8 L394.3,215 L396.8,217.5 L396.8,221.8 L402.1,228.2 L405.7,230.7 L409,234.1 L412.9,238.6 L417.9,244.9 L426.9,248.8 L432.6,258.4 L438.4,260.9 L443.5,269.9 L449.2,278.8 L451.2,273.7 L456.3,271.2 L461.4,271.8 L464.6,275 L469.1,272.4 L476.7,270.5 L481.8,269.9 L484.4,275 L487,273.7 L492.1,268 L497.2,276.3 L498.5,282.7 L502.3,283.9 L505.5,280.1 L508.7,287.1 L512.5,282 L519.6,282.7 L522.8,286.5 L530,292 L540.2,295.8 L548.3,300.9 L550.5,305.3 L546.1,308.9 L551.9,313.3 L562.2,311.1 L572.4,309.6 L579.7,311.1 L581.9,306.7 L578.2,302.3 L586.3,298.7 L592.9,296.5 L601.6,302.3 L611.9,305.3 L622.1,308.2 L628,305.3 L628,295 L623.6,290.6 L626.5,280.4 L630.9,279.7 L638.2,283.3 L641.1,289.9 L638.2,296.5 L641.1,302.3 L645.5,300.9 L652,297 L660,290 L665.6,280.2 L668.8,273.9 L675.1,277 L678.3,284.9 L684.6,292.8 L689.4,278.6 L683,267.5 L679.9,259.6 L684.6,258 L690,258.2 L694.6,259 L702.2,258.2 L705.2,256.7 L707.5,256 M513.8,802.5 L508.9,790.2 L505.2,782.8 L504.6,777.8 L502.8,772.9 L499.1,769.2 L492.9,765.5 L491.7,761.8 L485.5,759.4 L479.4,755.7 L470.8,753.2 L467.7,750.8 L467.1,743.4 L464.6,738.5 L459.7,731.1 L455.5,725 L455.6,716.5 L452.7,711.4 L453.4,706.3 L451.9,701.9 L448.3,700.4 L446.1,696 L442.4,690.2 L441,682.9 L440.2,674.1 L437.3,668.2 L438.8,663.9 L441,653.6 L442.4,646.3 L441.7,637.5 L443.9,628.8 L446.1,620 L447.5,612 L450.1,612.1 L452.6,601.8 L453.9,587.8 L454.5,580.1 L453.2,571.2 L451.3,561.6 L458.4,562.2 L465.4,562.8 L466.7,557.1 L468.6,553.9 L462,546 L455,539 L450.7,532.8 L445.6,527.7 L438.8,524 L435,518.2 L432.4,502.9 L427.3,496.5 L424.8,488.8 L420.9,485 L419.6,477.3 L424.1,472.2 L427.3,464.5 L423.5,466.4 L416,465 L410,460 L405,452 L402,445 L399,438 L398.5,429.5 L397.2,416.7 L395.9,409.1 L389.5,397.5 L387,391.2 L383.1,386 L384.4,381.6 L381.8,380.9 L376.7,378.4 L370.3,371.3 L360.1,366.9 L356.3,363 L340,360 L320,358 L300,356 L285,352 L268,350 L256.7,351 L247.8,349.7 L240.1,352.2 L229.9,348.4 L217.1,344.6 L203,340.7 L190.2,338.2 L189.6,336.3 L191.5,334.3 L200.5,335.6 L215.8,337.5 L229.9,343.3 L240.1,341.4 L250.3,342.7 L258,338 L261.8,325.4 L261.8,318.4 L255.4,312.6 L250.3,310 L252.9,304.3 L257.4,301.1 L259.3,294.7 L251.6,294.1 L247.8,290.2 L249,280 L250.2,276.8 L254.1,270.4 L256,261.5 L264.3,257.7 L275.8,254.5 L281.6,254.5 L284.1,261.5 L292.4,260.9 L297.5,264.7 L303.3,260.2 L305.2,254.5 L309.1,251.3 L298.8,248.7 L295,242.3 L289.2,237.2 L286.7,230.8 L288.6,226.3 L293.1,225 L291.8,220.6 L290.5,216.1 L298.8,217.4 L311.6,221.2 L314.2,225 L311.6,229.5 L316.7,234.6 L321.8,232.7 L323.1,225.7 L322.5,219.3 L325,212.9 L324.4,202.7 L325.7,197.6"/><path d="M741,141.5 L736,140 L725,136 L717,134 L709,134 L703,137 L697.5,146 L690,151 L686,150 L680,148 L678,144.5 L672,139 L667.4,138.9 L661.8,136.5 L662.6,130.2 L665.8,119.1 L667.4,112 L664.2,108.8 L659.5,106.4 L653.1,104.9 L651.5,95.4 L653.1,90.6 L647.6,84.3 L648.6,74.5 L650.9,68.3 L657.1,66.8 L652.5,62.1 L655.6,57.5 L650.9,52.9 L648.6,48.2 L648.6,38.9 L647.1,32.7 L648.6,28.1 L650.2,20.4 L652.5,17.3 L659.4,13.4 L661.8,10"/><path d="M612.7,92.2 L618.3,87.4 L626.2,82.7 L635.7,79.5 L642,78.7 L644.4,80.3 L646,85.8 L647.6,93.8 L650,101.7 L651.5,111.2 L650,122.3 L651.5,133.4 L654.7,139.7 L655.5,146.1 L653.9,152.4 L653.1,160.3 L651,170 L648.4,179.3 L643.6,181.7 L632.5,184.1 L630.2,179.3 L632.5,171.4 L628.6,165.1 L632.5,160.3 L627.8,155.6 L627.8,146.1 L623.8,141.3 L618.3,133.4 L620.7,128.6 L626.2,123.9 L631,116 L626.2,119.1 L619.9,123.9 L611.9,128.6 L605.6,125.5 L603.2,117.5 L604,112.8 L607.2,108 L608.8,101.7 L611.1,95.4 L612.7,92.2"/><path d="M598.5,125.5 L600.8,124.7 L605.6,130.2 L612.7,133.4 L618,137 L623,141.3 L624,148 L623.8,154 L623.8,160.3 L620.7,163.5 L616.7,161.9 L609.6,155.6 L607.2,149.2 L602.4,144.5 L600.1,136.5 L599.3,130.2 L598.5,125.5"/><path d="M651.5,161.9 L659.5,160.3 L661.8,165.1 L659.5,173 L653.1,174.6 L650,168 L651.5,161.9"/><path d="M645.2,184.1 L653.1,180.9 L664.2,180.9 L669,187.3 L667.4,195.2 L664.2,200 L660,205 L650,205 L646,197 L645.2,184.1"/><path d="M585,157.1 L591.3,158.7 L596.9,168.2 L597.7,160.3 L602.4,161.9 L605.6,165.1 L605.6,169.8 L596.1,174.6 L585,171.4 L585,157.1"/><path d="M605.6,174.6 L616.7,169.8 L617.5,174.6 L608.8,176.2 L605.6,174.6"/><path d="M610.4,182.5 L621.4,183.3 L631,187.3 L629.4,195.2 L622,197 L614,192 L610.4,182.5"/><path d="M523.7,196.3 L532,189.2 L538.4,184.1 L546.7,183.5 L548,181.6 L551.2,184.8 L548.6,188 L548.6,193.7 L542.8,198.2 L540.3,195.6 L537.7,198.2 L533.9,202.7 L530.7,203.3 L525.6,201.4 L523.7,196.3"/><path d="M537.1,207.1 L539.6,202.7 L542.2,201.4 L542.2,205.2 L539.6,208.4 L537.1,207.1"/><path d="M542.8,211.6 L547.3,197.5 L553.7,196.9 L560.1,201.4 L564.6,209.7 L569.7,209.7 L566.5,199.5 L570.3,193.1 L573.5,198.8 L580.6,202.7 L582.5,205.2 L581.8,214.2 L574.2,216.7 L567.1,216.7 L561.4,222.5 L558.2,224.4 L555,223.1 L553.7,219.9 L556.3,217.4 L553.7,214.2 L549.9,215.4 L546,214.2 L542.8,211.6"/><path d="M551.8,177.7 L555,175.2 L555.6,179.6 L553.7,180.3 L551.8,177.7"/><path d="M557.5,180.3 L562.7,176.4 L566.5,175.8 L567.1,180.9 L561.4,184.8 L558.8,184.1 L557.5,180.3"/><path d="M556.3,172 L560.1,168.8 L565.2,168.1 L569.7,170.7 L568.4,173.2 L562.7,172.6 L556.9,172.6 L556.3,172"/><path d="M579.9,179 L581.8,178.4 L585,186 L581.8,186 L579.9,179"/><path d="M575.4,157.9 L581.8,156.6 L589.5,158.5 L594.6,166.9 L597.2,159.8 L606.1,164.9 L606.8,170.1 L601,171.3 L595.9,174.5 L589.5,170.7 L583.1,170.1 L580.6,165.6 L576.7,161.1 L575.4,157.9"/><path d="M604.9,174.5 L611.3,170.7 L616.4,169.4 L617.6,173.2 L615.7,176.4 L610,176.4 L604.9,174.5"/><path d="M583.8,193.7 L588.2,192.4 L593.4,198.2 L594,192.4 L599.1,189.9 L604.9,191.8 L608.1,200.1 L608.7,209.7 L602.3,211.6 L597.2,206.5 L593.4,206.5 L589.5,202.7 L583.8,193.7"/><path d="M586.3,213.5 L588.2,209.1 L590.8,212.2 L586.3,213.5"/><path d="M615.1,201.4 L618.9,200.1 L623.4,203.9 L626,211 L616.4,210.3 L615.1,201.4"/><path d="M516.6,224.1 L527.9,221.7 L539.1,225.7 L550.3,237 L542,241 L534.3,246.6 L531.1,253 L527.9,261 L515,264.3 L508.6,249.8 L516.6,238.6 L516.6,224.1"/><path d="M532.9,258.5 L535.8,248.2 L541,243 L549,239.5 L557,245.3 L563.6,243.1 L570.9,243.9 L577.5,246.1 L581.2,235.1 L588.5,232.9 L591.4,236.5 L589.2,245.3 L592.9,261.4 L598.7,271.6 L608.9,274.6 L614.8,277.5 L609.7,284.1 L611.9,287.7 L606,292.1 L598,290 L591.4,288.5 L584.1,292.1 L568,298 L556.3,300.9 L553.4,293.6 L541.7,284.8 L542.4,281.1 L551.9,280.4 L557.8,276 L549,273.1 L538.8,270.2 L535.1,264.3 L532.9,258.5"/><path d="M623.9,219.3 L630.9,216.7 L640.5,217.4 L641.2,232.1 L634.1,237.9 L623.9,228.3 L623.9,219.3"/><path d="M601.5,228.3 L606.6,225.7 L613.7,222.5 L616.9,225.7 L616.9,233.4 L622,235.9 L625.2,244.9 L622,251.3 L617.5,258.3 L610.5,251.3 L602.8,247.5 L597.7,241.1 L604.1,238.5 L602.2,232.1 L601.5,228.3"/><path d="M590,195 L606.6,195 L607.9,202.7 L606.6,210.4 L600.2,209.1 L595.1,206.5 L590,209.1 L590,195"/><path d="M615,202 L618.8,200.1 L622.6,202.7 L625.2,210.4 L615.6,209.1 L615,202"/><path d="M627.1,195 L666.8,195 L661.6,198.2 L656.5,202.7 L647.6,205.9 L638.6,207.8 L632.2,207.8 L628.4,201.4 L627.1,195"/><path d="M650.1,214.2 L652.7,211.6 L661.6,207.8 L666.8,205.2 L671.9,204.6 L679.5,214.2 L683.4,221.9 L696.2,206.5 L703.9,203.3 M705.1,248.7 L697.5,250 L687.2,253.8 L679.5,256.4 L668,255.1 L661.6,251.3 L654,244.9 L650.1,237.2 L648.8,227 L650.1,214.2"/><path d="M677,200.1 L684.7,197.6 L692.3,201.4 L693.6,206.5 L687.2,211.6 L679.5,209.1 L675.7,204 L677,200.1"/><path d="M630.9,244 L636,241 L638.6,248.7 L645,255.1 L651.4,261.5 L652.7,265.4 L651.4,271.8 L655.2,273 L661.6,274.3 L666.8,276.9 L666.8,282 L660,290 L652,297 L645.5,300.9 L641.1,302.3 L638.2,296.5 L641.1,289.9 L638.2,283.3 L630.9,279.7 L626.5,280.4 L629.7,269.2 L629,255.1 L630.9,244"/><path d="M428.3,523.2 L432.1,521.9 L440.5,527 L450.7,532.8 L454.5,539.2 L462.2,544.3 L468,544.3 L469.2,552 L466,560.9 L460.9,562.2 L453.2,558.4 L449.4,552 L440.5,543.7 L439.2,539.2 L431.5,531.5 L429,526.4 L428.3,523.2"/><path d="M402.4,468.4 L412.6,472.8 L409.4,478.6 L409.4,486.3 L407.5,490.1 L410.7,501 L406.2,497.1 L403.7,487.5 L401.1,474.8 L402.4,468.4"/><path d="M402.3,411.6 L408.7,407.8 L406.8,415.4 L404.9,428.2 L411.3,424.4 L413.8,432.1 L406.1,434.6 L404,440 L401,430 L402.3,411.6"/><path d="M667.2,10 L670.3,17.3 L669.5,25 L671.8,23.5 L672.6,17.3 L675.7,16.5 L678,14.2 L686.5,17.3 L688.1,18.8 L683.4,10 Z" /></g>
<path d="M468,557.1 L471.2,557.1 L472.4,564.8 L471.8,576.3 L468.6,577.5 L465.4,579.5 L464.8,575 L468,571.2 L467.3,564.8 Z" fill="#909090" stroke="#909090"/><g fill="none" stroke="#909090" stroke-width="1"><path d="M454.5,589 L462.2,592.2 L464.8,595.4 L466,600.6 L477.5,601.2 L490.3,599.9 L500,600.4 L506.1,599.1 L518.9,599.1"/><path d="M519.1,559.6 L518.9,599.1"/><path d="M518.9,599.1 L522.5,603.4 L521.9,607.1 L518.3,614.4 L515.2,620.5 L517,624.1 L515.8,633.8 L514.6,653.3"/><path d="M528.1,561 L528.7,573.7 L535.1,583.9 L539,590 L542.6,592.4 L541.4,605.8 L546.3,605.8 L548.7,609.5 L551.2,614.4 L555.4,621.7 L560.9,621.7 L568.2,619.8 L570.6,618 L573.1,621.1"/><path d="M573.7,614.4 L574.3,668"/><path d="M573.7,614.4 L584,614.4 L600,613.1 L639.5,609.9"/><path d="M443.2,646.3 L484.1,650.7 L514.6,653.3 L520.7,653.9 L545.1,654.6 L551.2,655.8 L568.2,655.8 L574.3,654.6"/><path d="M484.1,651.4 L480.4,690.2 L479.7,692.4 L481.9,693.1 L507.1,720 L535.4,748.9"/><path d="M544.5,654.6 L543.8,723.5 L540,735 L535.4,748.9"/><path d="M574.3,668 L596.2,668 L597.5,722.5 L601.3,798.4"/><path d="M543.8,723.5 L560,723.7 L598.1,722.1 L664.9,717.3 L753.9,699.9 L806.3,693.5"/><path d="M634.7,560 L639.5,598.1 L644.2,636.3 L646.5,661.7"/><path d="M639.5,598.1 L706.2,587"/><path d="M644.2,636.3 L696.7,628.3 L715.8,628.3"/><path d="M596.2,668 L646.5,663.3 L666.5,661.7"/><path d="M666.5,661.7 L674.4,715.8"/><path d="M669.7,674.4 L736.4,661.7"/><path d="M664.9,717.3 L668.1,723.7 L672.8,785.7"/><path d="M629.9,788.9 L672.8,785.7"/><path d="M664.9,722.1 L698.3,718.9 L703,744.4 L738,747.5 L766.6,744.4"/><path d="M753.9,699.9 L768.2,744.4 L776.2,750.7 L788.9,792"/><path d="M776.2,750.7 L806.3,744.4"/><path d="M693.75,548.75 L706.2,587 L715.8,620.4 L715.8,628.3 L733.2,653.8 L747.5,668.1 L753.9,699.9"/><path d="M733.2,653.8 L773,644.2"/><path d="M715.8,620.4 L782.5,607.7"/><path d="M770,598 L782.5,620.4 L773,644.2 L790,670 L811.1,680.8 L806.3,693.5 L811.1,712.6 L811.8,750.7 L808.6,769.8"/><path d="M810.2,614 L821.3,664.9 L811.8,680.8"/><path d="M811.8,690.3 L872.2,668.1 L951.6,631.5"/><path d="M811.8,712.6 L862.6,696.7 L888.1,687.1"/><path d="M835.6,706.2 L849.9,766.6"/><path d="M862.6,696.7 L881.7,728.5 L889.7,749.1"/><path d="M856.3,760.3 L889.7,749.1 L924.6,739.6"/><path d="M888.1,687.1 L929.4,712.6"/><path d="M888.1,685.6 L913.5,672.8 L926.2,672.8 L943.7,677.6"/><path d="M811.8,680.8 L824.5,664.9 L846.8,642.6 L859.5,637.9 L875.4,642.6 L886.5,645.8 L900.8,636.3 L910.3,607.7"/><path d="M837.2,604.5 L848.3,639.5"/><path d="M884.9,601.3 L884.9,618.8"/><path d="M888.1,610.9 L923,596.6"/><path d="M875.4,579.1 L929.4,560"/><path d="M837.2,604.5 L884.9,601.3"/><path d="M800,600 L837.2,604.5"/><path d="M945.3,560 L942.1,572.7 L935.8,585.4 L929.4,601.3 L942.1,610.9 L948.5,623.6 L958,633.1 L964.4,642.6 L961.2,652.2 L956.4,658.5 L948.5,674.4 L942.1,680.8 L935.8,696.7 L929.4,709.4 L927.8,731.6 L929.4,738 L942.1,750.7 L953.2,760.3 L964.4,773 L972.3,788.9 L973.9,801.6 L967.5,809.5 L958,804.8 L948.5,795.2 L938.9,788.9 L932.6,779.3 L929.4,763.4 L919.9,753.9 L907.1,757.1 L897.6,760.3 L888.1,763.4 L875.4,760.3 L859.5,766.6 L846.8,771.4 L840.4,776.1 L837.2,782.5 L843.6,788.9 L827.7,779.3 L811.8,792 L795.9,795.2 L780,788.9 L774.3,800 L765.7,811.4 L758.6,821"/><path d="M971.6,478.1 L969,487.5 L960.9,498.2 L955.6,514.3 L950,530 L945.3,560"/><path d="M764,326.8 L773.4,321.4 L786.8,314.7 L802.9,316.1 L805.5,320.1 L818.9,316.1 L835,333.5 L851.1,334.8 L855.1,320.1 L849.7,304 L851.1,301.3 L893.9,316.1 L904.7,326.8 L920.7,326.8 L942.2,321.4 L947.5,325.4 L958.2,321.4 L971.6,325.4 L979.7,332.1 L979,342 L971.6,353.6 L973,377.7 L958.2,391.1 L947.5,399.1 L931.4,412.5 L928.8,425.9 L926.1,450 L922.1,476.8"/><path d="M922.1,476.8 L926.1,450 L936.8,425.9 L952.9,417.9 L959.6,423.2 L956.9,433.9 L950.2,439.3 L960.9,436.6 L977,446 L990.4,444.7 L1003.8,433.9 L999.7,415.2 L1015.8,419.2 L1011.8,439.3 L995.7,466.1 L995.7,483.5 L982.3,484.8 L983.7,471.4 L987.7,455.4 L981,455.4 L971.6,478.1"/><path d="M764,326.8 L772,337.5 L774.7,348.2 L785.4,358.9 L782.8,372.3 L792.1,375 L804.2,385.7 L813.6,399.1 L810.9,412.5 L805.5,425.9 L816.3,439.3 L827,450 L828.3,455.4 L824.3,468.8 L813.6,464.7 L794.8,455.4 L785.4,431.3 L780.1,429.9 L768,432.6 L760,436.6"/><path d="M764.4,329.3 L770.8,338.3 L772,346 L782.3,358.8 L784.8,369 L782.3,374.1 L792.5,376.7 L800.2,384.3 L810.4,394.6 L813,400"/><path d="M720.9,207.9 L738.8,209.2 L749,213 L756.7,218.1 L759.3,228.4 L769.5,228.4 L774.6,224.5 L802.7,223.2 L806.6,230.9 L809.1,248.8 L797.6,250.1 L787.4,247.5 L782.3,248.8 L787.4,256.5 L800.2,257.8 L813,262.9 L820.6,265.4 L825.7,273.1 L818.1,278.2 L797.6,280.8 L802.7,283.3 L818.1,284.6 L827,289.7 L818.1,294.8 L800.2,296.1 L789.9,298.7 L782.3,293.6 L769.5,293.6 L759.3,297.4 L756.7,303.8 L749,307.6 L742.6,301.2 L743.9,292.3 L756.7,284.6 L759.3,278.2 L752.9,274.4 L752.9,256.5 L741.4,247.5 L728.6,245 L726,251.4 L723.5,243.7 L713.2,241.1 L708.1,239.9"/><path d="M728.8,256.7 L733.4,254.4 L738.7,257.5 L740.2,262 L738.7,266.6 L735,270.4 L730.4,266.6 L728.8,262 L728.8,256.7"/><path d="M692.8,300 L703,305 L715.8,310.2 L731.1,315.3 L741.4,317.8 L740.1,324.2 L726,324.2 L720.9,329.3 L715.8,338.3 L708.1,335.7 L703,320 L701.7,312.7"/><path d="M695.3,302.5 L697.9,312.7 L699.2,328.1 L690.2,340.9 L687.7,348.5 L690.2,356.2 L688,370"/><path d="M675.5,386.3 L676.1,397 L678.8,407.7 L682.8,415.7 L695,425 L703.6,429.1 L713,428.5 L723.7,430.5 L730.4,427.8 L745,428 L761,423.8 L770.6,429.1 L781.3,431.8 L790,436"/><path d="M742,140.3 L749.5,142.2 L760,150 L769.5,158.7 L774.4,148.9 L787.1,147.9 L793,150.9 L782.2,158.7 L794,170.5 L799.9,169.5 L801.9,162.7 L800.9,155.8 L807.8,157.8 L815.6,164.6 L811.7,170.5 L814.6,178.4 L822.5,186.2 L838.2,196.1 L850,197 L861.8,202.9 L877.5,204.9 L897.1,208.8 L912.9,208.8 L920.7,203.9 L926.6,198 L936.4,196.1 L944.3,190.2 L944.3,186.2 L938.4,179.4 L924.6,166.6 L912.9,163.7 L909,152.9 L903,146 L893.2,140.1 L885.4,139.1 L888.3,135.2 L884.4,129.3 L885.4,121.4 L887.3,113.6 L885.4,103.8 L882,97.6 L878.6,91.5 L874.1,88.7 L868.5,83.1 L864.6,75.2 L864,65.1 L862.4,52.8 L858.4,42.7 L851.7,33.8 L843.9,24.2 L837.7,36 L840.5,42.2 L837.1,42.2 L834.9,36.6 L825.9,36 L824.8,31.5 L834.9,30.4 L838.3,28.2 L838.8,21.4 L837.1,19.8 L828.2,19.2 L824.8,18.6 L808.6,29.3 L814.7,19.2 L808,17.5 L803.5,18.6 L800.7,21.4 L795.7,14.7 L795.1,10.2"/><path d="M786.7,11.4 L787.8,14.2 L789,11.4"/><path d="M513.8,802.5 L517,809.1 L518.4,815 L519.2,821"/><path d="M532.4,795.8 L544.2,797.5 L550.1,803.2 L553.1,809.1 L556,818 L557,821"/><path d="M532.4,795.8 L533.2,803.2 L534.6,810.6 L535.4,821"/><path d="M533.9,734.6 L539.1,729.5 L539.8,735.4 L535.4,750.1 L536.9,756 L541.3,760.4 L537.6,764.9 L535.4,769.3 L534.6,776.7 L536.9,780.3 L533.9,782.6"/><path d="M531.4,399.8 L536.1,403.2 L542.1,403.8 L546.8,401.8 L552.2,399.8 L557.5,395.8 L562.9,393.8 L564.2,388.4 L570.9,384.4 L576.3,382.4 L579.6,379.7 L580.3,379 L573.6,378.4 L566.9,379 L562.9,381.7 L560.2,387.1 L556.2,389.1 L550.8,385.7 L548.1,383.1 L542.8,383.7 L545.5,388.4 L542.8,392.4 L541.4,396.5 L536.1,399.8 L531.4,399.8"/><path d="M569,432.4 L578.4,419.6 L583.5,419.6 L594.6,423.9 L583.5,428.1 L575,431.5 L569,432.4"/><path d="M493.2,328.6 L501.4,325.4 L510,323.6 L515.7,322.5 L521.4,319.3 L525.7,321.4 L530,325 L528,335 L522.1,342.5 L514.3,345 L508.6,345.4 L502.9,345 L500.7,343.6 L503.6,338.6 L505.7,337.1 L511.4,330.7 L509.3,329.3 L495,328.9"/><path d="M632.5,434.6 L636.6,439.8 L634.6,446 L635.6,454.2 L630.4,458.4 L629.4,448 L631.5,441.8 L630.4,437.7 L632.5,434.6"/><path d="M668,488 L676,495 L684,505 L690,515 L694,528 L690,532 L683,522 L676,508 L670,498 L668,488"/><path d="M650,505 L660,512 L664,525 L658,530 L652,520 L650,505"/><path d="M777.3,522.4 L787,522.4 L794.4,528.5 L802.9,529.1 L806.5,537 L812,540"/><path d="M776,546 L785,541 L799.2,543.8 L806.5,541.9 L812,543"/><path d="M798,548 L796,560 L795.6,568.7 L794.4,576 L798,588.2 L798,598"/><path d="M810.2,551.7 L807.8,562.6 L806.5,572.4 L810.2,584.6 L815.1,595.5 L817.5,605.3"/><path d="M824,553 L835,565 L833.3,568.7 L836,575 L843,577 L848,585"/><path d="M826,545 L845,537 L860,538 L865,545 L855,550 L848,548"/><path d="M848,600 L860,596 L872,585 L885,572 L893,565"/><path d="M875,560 L885,555 L897,548 L895,556 L885,562"/><path d="M782.2,535.2 L780,528 L785,525"/></g><g fill="none" stroke="#a0a0a0" stroke-width="1" clip-path="url(#nclip)"><path d="M454.5,589 L462.2,592.2 L464.8,595.4 L466,600.6 L477.5,601.2 L490.3,599.9 L500,600.4 L506.1,599.1 L518.9,599.1"/><path d="M519.1,559.6 L518.9,599.1"/><path d="M518.9,599.1 L522.5,603.4 L521.9,607.1 L518.3,614.4 L515.2,620.5 L517,624.1 L515.8,633.8 L514.6,653.3"/><path d="M528.1,561 L528.7,573.7 L535.1,583.9 L539,590 L542.6,592.4 L541.4,605.8 L546.3,605.8 L548.7,609.5 L551.2,614.4 L555.4,621.7 L560.9,621.7 L568.2,619.8 L570.6,618 L573.1,621.1"/><path d="M573.7,614.4 L574.3,668"/><path d="M573.7,614.4 L584,614.4 L600,613.1 L639.5,609.9"/><path d="M443.2,646.3 L484.1,650.7 L514.6,653.3 L520.7,653.9 L545.1,654.6 L551.2,655.8 L568.2,655.8 L574.3,654.6"/><path d="M484.1,651.4 L480.4,690.2 L479.7,692.4 L481.9,693.1 L507.1,720 L535.4,748.9"/><path d="M544.5,654.6 L543.8,723.5 L540,735 L535.4,748.9"/><path d="M574.3,668 L596.2,668 L597.5,722.5 L601.3,798.4"/><path d="M543.8,723.5 L560,723.7 L598.1,722.1 L664.9,717.3 L753.9,699.9 L806.3,693.5"/><path d="M634.7,560 L639.5,598.1 L644.2,636.3 L646.5,661.7"/><path d="M639.5,598.1 L706.2,587"/><path d="M644.2,636.3 L696.7,628.3 L715.8,628.3"/><path d="M596.2,668 L646.5,663.3 L666.5,661.7"/><path d="M666.5,661.7 L674.4,715.8"/><path d="M669.7,674.4 L736.4,661.7"/><path d="M664.9,717.3 L668.1,723.7 L672.8,785.7"/><path d="M629.9,788.9 L672.8,785.7"/><path d="M664.9,722.1 L698.3,718.9 L703,744.4 L738,747.5 L766.6,744.4"/><path d="M753.9,699.9 L768.2,744.4 L776.2,750.7 L788.9,792"/><path d="M776.2,750.7 L806.3,744.4"/><path d="M693.75,548.75 L706.2,587 L715.8,620.4 L715.8,628.3 L733.2,653.8 L747.5,668.1 L753.9,699.9"/><path d="M733.2,653.8 L773,644.2"/><path d="M715.8,620.4 L782.5,607.7"/><path d="M770,598 L782.5,620.4 L773,644.2 L790,670 L811.1,680.8 L806.3,693.5 L811.1,712.6 L811.8,750.7 L808.6,769.8"/><path d="M810.2,614 L821.3,664.9 L811.8,680.8"/><path d="M811.8,690.3 L872.2,668.1 L951.6,631.5"/><path d="M811.8,712.6 L862.6,696.7 L888.1,687.1"/><path d="M835.6,706.2 L849.9,766.6"/><path d="M862.6,696.7 L881.7,728.5 L889.7,749.1"/><path d="M856.3,760.3 L889.7,749.1 L924.6,739.6"/><path d="M888.1,687.1 L929.4,712.6"/><path d="M888.1,685.6 L913.5,672.8 L926.2,672.8 L943.7,677.6"/><path d="M811.8,680.8 L824.5,664.9 L846.8,642.6 L859.5,637.9 L875.4,642.6 L886.5,645.8 L900.8,636.3 L910.3,607.7"/><path d="M837.2,604.5 L848.3,639.5"/><path d="M884.9,601.3 L884.9,618.8"/><path d="M888.1,610.9 L923,596.6"/><path d="M875.4,579.1 L929.4,560"/><path d="M837.2,604.5 L884.9,601.3"/><path d="M800,600 L837.2,604.5"/><path d="M945.3,560 L942.1,572.7 L935.8,585.4 L929.4,601.3 L942.1,610.9 L948.5,623.6 L958,633.1 L964.4,642.6 L961.2,652.2 L956.4,658.5 L948.5,674.4 L942.1,680.8 L935.8,696.7 L929.4,709.4 L927.8,731.6 L929.4,738 L942.1,750.7 L953.2,760.3 L964.4,773 L972.3,788.9 L973.9,801.6 L967.5,809.5 L958,804.8 L948.5,795.2 L938.9,788.9 L932.6,779.3 L929.4,763.4 L919.9,753.9 L907.1,757.1 L897.6,760.3 L888.1,763.4 L875.4,760.3 L859.5,766.6 L846.8,771.4 L840.4,776.1 L837.2,782.5 L843.6,788.9 L827.7,779.3 L811.8,792 L795.9,795.2 L780,788.9 L774.3,800 L765.7,811.4 L758.6,821"/><path d="M971.6,478.1 L969,487.5 L960.9,498.2 L955.6,514.3 L950,530 L945.3,560"/><path d="M764,326.8 L773.4,321.4 L786.8,314.7 L802.9,316.1 L805.5,320.1 L818.9,316.1 L835,333.5 L851.1,334.8 L855.1,320.1 L849.7,304 L851.1,301.3 L893.9,316.1 L904.7,326.8 L920.7,326.8 L942.2,321.4 L947.5,325.4 L958.2,321.4 L971.6,325.4 L979.7,332.1 L979,342 L971.6,353.6 L973,377.7 L958.2,391.1 L947.5,399.1 L931.4,412.5 L928.8,425.9 L926.1,450 L922.1,476.8"/><path d="M922.1,476.8 L926.1,450 L936.8,425.9 L952.9,417.9 L959.6,423.2 L956.9,433.9 L950.2,439.3 L960.9,436.6 L977,446 L990.4,444.7 L1003.8,433.9 L999.7,415.2 L1015.8,419.2 L1011.8,439.3 L995.7,466.1 L995.7,483.5 L982.3,484.8 L983.7,471.4 L987.7,455.4 L981,455.4 L971.6,478.1"/><path d="M764,326.8 L772,337.5 L774.7,348.2 L785.4,358.9 L782.8,372.3 L792.1,375 L804.2,385.7 L813.6,399.1 L810.9,412.5 L805.5,425.9 L816.3,439.3 L827,450 L828.3,455.4 L824.3,468.8 L813.6,464.7 L794.8,455.4 L785.4,431.3 L780.1,429.9 L768,432.6 L760,436.6"/><path d="M764.4,329.3 L770.8,338.3 L772,346 L782.3,358.8 L784.8,369 L782.3,374.1 L792.5,376.7 L800.2,384.3 L810.4,394.6 L813,400"/><path d="M720.9,207.9 L738.8,209.2 L749,213 L756.7,218.1 L759.3,228.4 L769.5,228.4 L774.6,224.5 L802.7,223.2 L806.6,230.9 L809.1,248.8 L797.6,250.1 L787.4,247.5 L782.3,248.8 L787.4,256.5 L800.2,257.8 L813,262.9 L820.6,265.4 L825.7,273.1 L818.1,278.2 L797.6,280.8 L802.7,283.3 L818.1,284.6 L827,289.7 L818.1,294.8 L800.2,296.1 L789.9,298.7 L782.3,293.6 L769.5,293.6 L759.3,297.4 L756.7,303.8 L749,307.6 L742.6,301.2 L743.9,292.3 L756.7,284.6 L759.3,278.2 L752.9,274.4 L752.9,256.5 L741.4,247.5 L728.6,245 L726,251.4 L723.5,243.7 L713.2,241.1 L708.1,239.9"/><path d="M728.8,256.7 L733.4,254.4 L738.7,257.5 L740.2,262 L738.7,266.6 L735,270.4 L730.4,266.6 L728.8,262 L728.8,256.7"/><path d="M692.8,300 L703,305 L715.8,310.2 L731.1,315.3 L741.4,317.8 L740.1,324.2 L726,324.2 L720.9,329.3 L715.8,338.3 L708.1,335.7 L703,320 L701.7,312.7"/><path d="M695.3,302.5 L697.9,312.7 L699.2,328.1 L690.2,340.9 L687.7,348.5 L690.2,356.2 L688,370"/><path d="M675.5,386.3 L676.1,397 L678.8,407.7 L682.8,415.7 L695,425 L703.6,429.1 L713,428.5 L723.7,430.5 L730.4,427.8 L745,428 L761,423.8 L770.6,429.1 L781.3,431.8 L790,436"/><path d="M742,140.3 L749.5,142.2 L760,150 L769.5,158.7 L774.4,148.9 L787.1,147.9 L793,150.9 L782.2,158.7 L794,170.5 L799.9,169.5 L801.9,162.7 L800.9,155.8 L807.8,157.8 L815.6,164.6 L811.7,170.5 L814.6,178.4 L822.5,186.2 L838.2,196.1 L850,197 L861.8,202.9 L877.5,204.9 L897.1,208.8 L912.9,208.8 L920.7,203.9 L926.6,198 L936.4,196.1 L944.3,190.2 L944.3,186.2 L938.4,179.4 L924.6,166.6 L912.9,163.7 L909,152.9 L903,146 L893.2,140.1 L885.4,139.1 L888.3,135.2 L884.4,129.3 L885.4,121.4 L887.3,113.6 L885.4,103.8 L882,97.6 L878.6,91.5 L874.1,88.7 L868.5,83.1 L864.6,75.2 L864,65.1 L862.4,52.8 L858.4,42.7 L851.7,33.8 L843.9,24.2 L837.7,36 L840.5,42.2 L837.1,42.2 L834.9,36.6 L825.9,36 L824.8,31.5 L834.9,30.4 L838.3,28.2 L838.8,21.4 L837.1,19.8 L828.2,19.2 L824.8,18.6 L808.6,29.3 L814.7,19.2 L808,17.5 L803.5,18.6 L800.7,21.4 L795.7,14.7 L795.1,10.2"/><path d="M786.7,11.4 L787.8,14.2 L789,11.4"/><path d="M513.8,802.5 L517,809.1 L518.4,815 L519.2,821"/><path d="M532.4,795.8 L544.2,797.5 L550.1,803.2 L553.1,809.1 L556,818 L557,821"/><path d="M532.4,795.8 L533.2,803.2 L534.6,810.6 L535.4,821"/><path d="M533.9,734.6 L539.1,729.5 L539.8,735.4 L535.4,750.1 L536.9,756 L541.3,760.4 L537.6,764.9 L535.4,769.3 L534.6,776.7 L536.9,780.3 L533.9,782.6"/><path d="M531.4,399.8 L536.1,403.2 L542.1,403.8 L546.8,401.8 L552.2,399.8 L557.5,395.8 L562.9,393.8 L564.2,388.4 L570.9,384.4 L576.3,382.4 L579.6,379.7 L580.3,379 L573.6,378.4 L566.9,379 L562.9,381.7 L560.2,387.1 L556.2,389.1 L550.8,385.7 L548.1,383.1 L542.8,383.7 L545.5,388.4 L542.8,392.4 L541.4,396.5 L536.1,399.8 L531.4,399.8"/><path d="M569,432.4 L578.4,419.6 L583.5,419.6 L594.6,423.9 L583.5,428.1 L575,431.5 L569,432.4"/><path d="M493.2,328.6 L501.4,325.4 L510,323.6 L515.7,322.5 L521.4,319.3 L525.7,321.4 L530,325 L528,335 L522.1,342.5 L514.3,345 L508.6,345.4 L502.9,345 L500.7,343.6 L503.6,338.6 L505.7,337.1 L511.4,330.7 L509.3,329.3 L495,328.9"/><path d="M632.5,434.6 L636.6,439.8 L634.6,446 L635.6,454.2 L630.4,458.4 L629.4,448 L631.5,441.8 L630.4,437.7 L632.5,434.6"/><path d="M668,488 L676,495 L684,505 L690,515 L694,528 L690,532 L683,522 L676,508 L670,498 L668,488"/><path d="M650,505 L660,512 L664,525 L658,530 L652,520 L650,505"/><path d="M777.3,522.4 L787,522.4 L794.4,528.5 L802.9,529.1 L806.5,537 L812,540"/><path d="M776,546 L785,541 L799.2,543.8 L806.5,541.9 L812,543"/><path d="M798,548 L796,560 L795.6,568.7 L794.4,576 L798,588.2 L798,598"/><path d="M810.2,551.7 L807.8,562.6 L806.5,572.4 L810.2,584.6 L815.1,595.5 L817.5,605.3"/><path d="M824,553 L835,565 L833.3,568.7 L836,575 L843,577 L848,585"/><path d="M826,545 L845,537 L860,538 L865,545 L855,550 L848,548"/><path d="M848,600 L860,596 L872,585 L885,572 L893,565"/><path d="M875,560 L885,555 L897,548 L895,556 L885,562"/><path d="M782.2,535.2 L780,528 L785,525"/></g><g fill="none" stroke="#000" stroke-width="1"><path d="M432.6,258.4 L380,370.5 L389.5,376.4 L394,392.4 L401,395.6 L410.6,392.4 L416.4,409 L420.2,427 L420.9,436.4 L431.2,452.4 L428,463.2 L423.5,466.4"/><path d="M452,558.4 L458.4,562.2 L465.4,562.8 L466.7,557.1 L466.7,554.5 L509.5,558.4 L522.3,559.6 L560,561.4 L597.5,560 L635,556.25 L672.5,550 L705,543.75 L708.5,542.2 L710.2,538 L711.9,538.8 L714.5,544 L725.6,544 L728.1,542.2 L734.1,543.1 L782.2,535.2 L806.5,539.5 L812.6,543.8 L814.5,542.5 L816.3,543.1 L816.9,545 L821.2,545 L824.8,548.6 L835.8,549.8 L843.1,560.2 L849.8,571.2 L850.4,583.3 L848.6,589.4 L848.6,594.3 L852.8,597.3 L856.5,597.3 L862.6,589.4 L871.1,579.7 L883.3,566.3 L877.2,559 L896.7,548 L897.9,534.6 L900.4,532.1 L904.1,520.3 L931.5,502.9 L936,493.8 L935.1,484.6 L931.5,470 L931.4,460.7 L942.2,458 L947.5,460.7 L958.2,472.8 L971.6,478.1"/><path d="M505.2,783.3 L515.5,783.3 L516.2,782.3 L533.2,782.3 L533.9,785.5 L548.7,791.4 L564.9,797.3 L576.7,801.4 L600.3,801.4 L611.3,800.3 L612,794.4 L620,793.6 L629.9,792 L641.1,801.6 L652.2,811.1 L657,821"/><path d="M679.2,821 L684,814.3 L693.5,814.3 L699.9,819 L705,821"/></g>
<g fill="none" stroke="#5a5a5a" stroke-width="1"><path d="M129.6,187.9 C141.8,203.2 184.6,256.8 203.0,280.0 C221.4,303.2 232.2,317.0 240.0,327.0 C247.8,337.0 242.7,330.3 250.0,340.0 C257.3,349.7 275.3,374.1 283.6,385.0 C291.9,395.9 292.1,395.2 300.0,405.2 C307.9,415.2 310.7,418.8 330.7,445.0 C350.7,471.2 401.8,538.8 420.0,562.2 C438.2,585.6 431.5,575.0 440.0,585.2 C448.5,595.4 465.2,616.8 471.2,623.6 C477.2,630.4 475.4,625.7 476.2,626.1"/><path d="M664.1,110.7 C659.5,128.9 645.4,188.5 636.6,220.1 C627.8,251.7 621.4,270.0 611.1,300.0 C600.8,330.0 589.2,363.3 575.0,400.0 C560.8,436.7 536.6,495.1 526.1,520.0 C515.6,544.9 514.9,543.0 512.1,549.4 C509.3,555.8 511.2,553.3 509.5,558.4 C507.8,563.5 504.2,573.7 501.8,580.1 C499.4,586.5 497.5,591.4 495.4,596.7 C493.3,602.0 491.7,607.4 489.1,612.1 C486.6,616.8 481.8,622.8 480.1,625.0 C478.4,627.2 479.0,625.4 478.8,625.5"/><path d="M734.8,140.2 C726.6,153.5 701.0,193.5 685.7,220.1 C670.5,246.7 659.0,270.0 643.3,300.0 C627.5,330.0 601.2,380.0 591.2,400.0 C581.2,420.0 586.6,412.5 583.5,420.0 C580.4,427.5 579.9,428.3 572.5,445.0 C565.1,461.7 545.6,504.7 538.9,520.0 C532.2,535.3 535.0,530.4 532.5,536.6 C530.0,542.8 527.0,550.9 523.6,557.1 C520.2,563.3 515.5,568.0 512.1,573.7 C508.7,579.5 505.7,585.9 503.1,591.6 C500.5,597.4 498.4,603.3 496.7,608.2 C495.0,613.1 493.6,617.4 492.9,621.0 C492.2,624.6 492.4,628.2 492.3,629.7"/><path d="M476.2,626.1 C476.5,626.2 476.8,626.7 477.8,626.6 C478.8,626.5 480.6,625.3 482.4,625.5 C484.2,625.7 487.0,626.6 488.7,627.6 C490.4,628.6 491.5,630.1 492.3,631.8 C493.1,633.5 493.3,637.0 493.5,638.0"/><path d="M493.5,638.0 C496.8,637.2 506.9,634.3 513.0,633.5 C519.1,632.7 522.2,633.8 530.0,633.2 C537.8,632.6 531.7,632.6 560.0,630.0 C588.3,627.4 653.3,622.0 700.0,617.3 C746.7,612.6 786.7,607.3 840.0,601.9 C893.3,596.5 984.3,588.0 1020.0,584.6 C1055.7,581.2 1048.7,581.8 1054.4,581.3"/><path d="M129.6,187.9 A589.07,589.07 0 0 1 1054.4,581.3"/></g>
<path fill="#2200f0" fill-rule="evenodd" d="M249.7,339.5 L263.6,322.9 L282,311.4 L287,320 L306,311.4 L314,325 L331,318 L338.6,331.4 L354,325.7 L357,329 L375.8,324 L378,328.5 L392.3,324.5 L391.9,319.1 L409.3,314.2 L408.8,311.5 L390.5,315.1 L388.3,310.6 L370,315.1 L353.6,320.7 L351.4,315.7 L388.6,303.3 L389.2,307.5 L408.8,303.9 L409.3,308.8 L426,306.2 L441.4,303.9 L445.9,303.9 L446.8,308.8 L501,308.3 L501,314.6 L470,314.4 L446.8,316.4 L448,320 L470,318.9 L482.8,319 L483.2,329.3 L515.8,330.6 L516,321.25 L535,323.5 L531.9,339.6 L499,336.4 L482.3,336 L481.9,340.9 L470,341 L466,341.9 L466.9,357.5 L450.4,358.8 L449.9,353.9 L433.8,355.7 L431.6,340 L416,342.3 L416.4,347.7 L400,351.4 L383,357 L369.7,361.1 L367.8,358.5 L355.7,363 L350,355.7 L332,360.7 L325.7,348.6 L310,354 L310.5,360 L296,369 L298.5,374.5 L284,384.5 Z M290.6,359.9 L304,351.6 L306.6,354.8 L292.5,362.5 Z M395,325.4 L410.6,321.8 L411.5,325.8 L395.4,328.9 Z M381.2,341 L412.9,332 L413.75,335.6 L382,344.6 Z M428.9,312.9 L445.9,311.1 L445.9,314.6 L429.4,316.9 Z"/>
<path fill="#2200f0" fill-rule="evenodd" d="M701.3,342.2 L704.4,338 L721,349.2 L730.3,337.6 L747.3,351.4 L730.5,372.7 L743.9,386.1 L739.6,390.9 L761,420.4 L765.9,419.3 L777.7,434.3 L772.9,438.6 L761.5,424.5 L740.7,440.7 L716.6,413.9 L701.1,428.9 L689.3,416.1 L694.6,409.1 L683.1,399.1 L683.1,396.4 L685.8,393.6 L683.1,392.5 L676,386 L673.2,382 L675.4,377.7 L661.1,367.7 L664.7,363 L679.1,373 L686.2,364.1 L670.5,353.2 L673.2,349.2 L688.8,359.4 L692.4,356.3 L706.7,366.6 L715.1,355.4 Z M723,380.2 L725.2,378 L741.3,389.8 L739.1,391.4 Z M716.1,388.8 L718.2,386.1 L743.9,411.8 L741.3,413.9 Z M688.2,392.5 L690.4,390.4 L701.6,400.5 L699.5,402.7 Z"/>
<g fill="#2200f0"><path d="M326.4,307 L345,300 L348,304.5 L329,312.8 Z"/><path d="M519,299 L539,302 L538,308 L519,306 Z"/><path d="M530,344.9 L562.2,352.3 L560.9,357.6 L528.7,350.2 Z"/><path d="M528,354.9 L544.1,358.3 L542.1,369 L526,365.6 Z"/><path d="M496.5,346.3 L513.6,347 L511.4,369.3 L496.4,368.6 Z"/><path d="M564.9,341.5 L581.6,346.9 L580.3,351.6 L562.9,346.2 Z"/><path d="M626.5,312.1 L645.3,320.8 L642.6,325.5 L625.2,317.4 Z"/><path d="M622.5,322.1 L641.2,330.8 L638.6,335.5 L620.5,327.5 Z"/><path d="M594.4,357.6 L609.8,363.6 L605.7,373.7 L590.3,367.7 Z"/><path d="M591,396.5 L605.1,402.5 L603.7,407.9 L589,401.8 Z"/><path d="M391,223 L413,219 L416,225.7 L392,229 Z"/><path d="M435,431.2 L447.1,428.5 L448.5,433.8 L437.7,436.5 Z"/><path d="M445.8,424.4 L457,422.6 L458.6,427.1 L447.1,429.8 Z"/><path d="M492.7,425.8 L504.8,427.1 L504.8,433.8 L492.7,432.5 Z"/><path d="M354.1,474.3 L362.9,468.1 L366.9,472.9 L357.8,479.8 Z"/><path d="M369.1,477.6 L378.6,471 L381.9,475.8 L372.4,482.4 Z"/><path d="M681.3,424.6 L685,420.4 L697.9,433.2 L693.6,437 Z"/><path d="M684.9,443.8 L689.9,440 L700.8,451 L696.4,455.9 Z"/><path d="M710.1,463.6 L715.1,459.7 L724.9,472.3 L720,476.7 Z"/><path d="M718.8,528.6 L733.3,521.8 L728.1,510.7 L723,511.5 L714.5,497.1 L719.6,494.5 L727.3,507.3 L728.6,506.8 L723,491.9 L728.1,489.4 L736.7,503 L733.3,505.6 L739.2,518.4 L767.4,506.4 L759.7,489.4 L765.7,486.8 L774.2,503 L769.9,505.6 L781.9,537.1 L762.2,545.7 L764.8,577.2 L743.5,582.3 L738.4,569.5 L730.7,555 L737.5,552.5 L735,539.7 L722.2,542.2 Z"/><path d="M723,572.1 L735.8,569.5 L738.4,583.2 L727.3,586.6 Z"/><path d="M765.7,560.2 L782.7,555.9 L787,573.8 L769.9,577.2 Z"/><path d="M787,554.2 L798.9,550.8 L803.2,568.7 L791.2,572.1 Z"/><path d="M814.3,546.5 L819.4,544.8 L824.5,563.6 L819.4,565.3 Z"/><path d="M762.2,594.3 L768.2,593.4 L770.8,608.8 L764.8,609.6 Z"/><path d="M612.5,568.75 L618.75,566.25 L621.25,575 L615,577.5 Z"/><path d="M579.5,587 L584,586.5 L585,593 L580.5,594 Z"/><path d="M456.6,596.6 L459.2,595 L476.7,626.1 L473.1,630.2 Z"/><path d="M472.6,595.5 L475.7,595 L477.8,606.4 L475.2,606.4 Z"/><path d="M477.3,612.1 L479.5,612.1 L479.9,618.8 L478.3,618.8 Z"/><path d="M484.5,612.1 L487.6,612.1 L488.7,626.1 L484,625 Z"/><path d="M492.8,608.5 L495.9,608.5 L494.3,621.4 L492.3,621.4 Z"/><path d="M493.8,635.9 L513,631.8 L514,633.3 L494.3,638.5 Z"/></g>
<path fill="#ffe800" d="M568,258.5 L589.9,263.6 L588.5,269.4 L567.3,264.3 Z"/>
<rect x="0" y="0" width="1120" height="10" fill="#fff"/>
<g filter="url(#crisp)"><text x="6" y="25.4" font-size="18.5" font-family="Liberation Sans, sans-serif" fill="#000">August, 12 2021</text>
<text x="6" y="40.8" font-size="18.5" font-family="Liberation Sans, sans-serif" fill="#000">0222:00 UT</text>
<rect x="1057.5" y="54.5" width="16.5" height="27.0" fill="url(#g5)"/>
<rect x="1057.5" y="81.5" width="16.5" height="26.8" fill="url(#g4)"/>
<rect x="1057.5" y="108.3" width="16.5" height="26.8" fill="url(#g3)"/>
<rect x="1057.5" y="135.1" width="16.5" height="26.8" fill="url(#g2)"/>
<rect x="1057.5" y="161.9" width="16.5" height="27.6" fill="url(#g1)"/>
<line x1="1057.5" y1="54.5" x2="1074.0" y2="54.5" stroke="#000" stroke-width="1"/>
<line x1="1057.5" y1="81.5" x2="1074.0" y2="81.5" stroke="#000" stroke-width="1"/>
<line x1="1057.5" y1="108.3" x2="1074.0" y2="108.3" stroke="#000" stroke-width="1"/>
<line x1="1057.5" y1="135.1" x2="1074.0" y2="135.1" stroke="#000" stroke-width="1"/>
<line x1="1057.5" y1="161.9" x2="1074.0" y2="161.9" stroke="#000" stroke-width="1"/>
<line x1="1057.5" y1="189.5" x2="1074.0" y2="189.5" stroke="#000" stroke-width="1"/>
<rect x="1057.5" y="54.5" width="16.5" height="135.0" fill="none" stroke="#000" stroke-width="1"/>
<text x="1049" y="55.0" font-size="13.5" font-family="Liberation Sans, sans-serif" text-anchor="end" fill="#000">500</text>
<text x="1049" y="82.0" font-size="13.5" font-family="Liberation Sans, sans-serif" text-anchor="end" fill="#000">400</text>
<text x="1049" y="108.8" font-size="13.5" font-family="Liberation Sans, sans-serif" text-anchor="end" fill="#000">300</text>
<text x="1049" y="135.6" font-size="13.5" font-family="Liberation Sans, sans-serif" text-anchor="end" fill="#000">200</text>
<text x="1049" y="162.4" font-size="13.5" font-family="Liberation Sans, sans-serif" text-anchor="end" fill="#000">100</text>
<text x="1049" y="190.0" font-size="13.5" font-family="Liberation Sans, sans-serif" text-anchor="end" fill="#000">0</text>
<text x="1066.3" y="12.2" font-size="17.6" font-family="Liberation Sans, sans-serif" text-anchor="middle" fill="#000">Spectral</text>
<text x="1065.7" y="26.8" font-size="17.6" font-family="Liberation Sans, sans-serif" text-anchor="middle" fill="#000">Width (m/s)</text>
<text x="155.7" y="574.7" font-size="18.4" font-family="Liberation Sans, sans-serif" text-anchor="middle" fill="#000">Frequency</text>
<text x="129.5" y="592.6" font-size="17" font-family="Liberation Sans, sans-serif" text-anchor="middle" fill="#000">cvw</text>
<text x="181" y="592.6" font-size="17" font-family="Liberation Sans, sans-serif" text-anchor="middle" fill="#000">cve</text>
<rect x="120.5" y="599.5" width="17" height="170.0" fill="none" stroke="#000" stroke-width="1"/>
<line x1="120.5" y1="616.5" x2="137.5" y2="616.5" stroke="#000" stroke-width="1"/>
<line x1="120.5" y1="633.5" x2="137.5" y2="633.5" stroke="#000" stroke-width="1"/>
<line x1="120.5" y1="650.5" x2="137.5" y2="650.5" stroke="#000" stroke-width="1"/>
<line x1="120.5" y1="667.5" x2="137.5" y2="667.5" stroke="#000" stroke-width="1"/>
<line x1="120.5" y1="684.5" x2="137.5" y2="684.5" stroke="#000" stroke-width="1"/>
<line x1="120.5" y1="701.5" x2="137.5" y2="701.5" stroke="#000" stroke-width="1"/>
<line x1="120.5" y1="718.5" x2="137.5" y2="718.5" stroke="#000" stroke-width="1"/>
<line x1="120.5" y1="735.5" x2="137.5" y2="735.5" stroke="#000" stroke-width="1"/>
<line x1="120.5" y1="752.5" x2="137.5" y2="752.5" stroke="#000" stroke-width="1"/>
<rect x="172.5" y="599.5" width="17" height="170.0" fill="none" stroke="#000" stroke-width="1"/>
<line x1="172.5" y1="616.5" x2="189.5" y2="616.5" stroke="#000" stroke-width="1"/>
<line x1="172.5" y1="633.5" x2="189.5" y2="633.5" stroke="#000" stroke-width="1"/>
<line x1="172.5" y1="650.5" x2="189.5" y2="650.5" stroke="#000" stroke-width="1"/>
<line x1="172.5" y1="667.5" x2="189.5" y2="667.5" stroke="#000" stroke-width="1"/>
<line x1="172.5" y1="684.5" x2="189.5" y2="684.5" stroke="#000" stroke-width="1"/>
<line x1="172.5" y1="701.5" x2="189.5" y2="701.5" stroke="#000" stroke-width="1"/>
<line x1="172.5" y1="718.5" x2="189.5" y2="718.5" stroke="#000" stroke-width="1"/>
<line x1="172.5" y1="735.5" x2="189.5" y2="735.5" stroke="#000" stroke-width="1"/>
<line x1="172.5" y1="752.5" x2="189.5" y2="752.5" stroke="#000" stroke-width="1"/>
<text x="112.3" y="606.7" font-size="13" font-family="Liberation Sans, sans-serif" text-anchor="end" fill="#000">18</text>
<text x="198.6" y="606.7" font-size="13" font-family="Liberation Sans, sans-serif" fill="#000">18</text>
<text x="112.3" y="623.7" font-size="13" font-family="Liberation Sans, sans-serif" text-anchor="end" fill="#000">17</text>
<text x="198.6" y="623.7" font-size="13" font-family="Liberation Sans, sans-serif" fill="#000">17</text>
<text x="112.3" y="640.7" font-size="13" font-family="Liberation Sans, sans-serif" text-anchor="end" fill="#000">16</text>
<text x="198.6" y="640.7" font-size="13" font-family="Liberation Sans, sans-serif" fill="#000">16</text>
<text x="112.3" y="657.7" font-size="13" font-family="Liberation Sans, sans-serif" text-anchor="end" fill="#000">15</text>
<text x="198.6" y="657.7" font-size="13" font-family="Liberation Sans, sans-serif" fill="#000">15</text>
<text x="112.3" y="674.7" font-size="13" font-family="Liberation Sans, sans-serif" text-anchor="end" fill="#000">14</text>
<text x="198.6" y="674.7" font-size="13" font-family="Liberation Sans, sans-serif" fill="#000">14</text>
<text x="112.3" y="691.7" font-size="13" font-family="Liberation Sans, sans-serif" text-anchor="end" fill="#000">13</text>
<text x="198.6" y="691.7" font-size="13" font-family="Liberation Sans, sans-serif" fill="#000">13</text>
<text x="112.3" y="708.7" font-size="13" font-family="Liberation Sans, sans-serif" text-anchor="end" fill="#000">12</text>
<text x="198.6" y="708.7" font-size="13" font-family="Liberation Sans, sans-serif" fill="#000">12</text>
<text x="112.3" y="725.7" font-size="13" font-family="Liberation Sans, sans-serif" text-anchor="end" fill="#000">11</text>
<text x="198.6" y="725.7" font-size="13" font-family="Liberation Sans, sans-serif" fill="#000">11</text>
<text x="112.3" y="742.7" font-size="13" font-family="Liberation Sans, sans-serif" text-anchor="end" fill="#000">10</text>
<text x="198.6" y="742.7" font-size="13" font-family="Liberation Sans, sans-serif" fill="#000">10</text>
<text x="112.3" y="759.7" font-size="13" font-family="Liberation Sans, sans-serif" text-anchor="end" fill="#000">9</text>
<text x="198.6" y="759.7" font-size="13" font-family="Liberation Sans, sans-serif" fill="#000">9</text>
<text x="112.3" y="776.7" font-size="13" font-family="Liberation Sans, sans-serif" text-anchor="end" fill="#000">8</text>
<text x="198.6" y="776.7" font-size="13" font-family="Liberation Sans, sans-serif" fill="#000">8</text>
<rect x="117" y="652" width="24" height="4" fill="#ff3300"/>
<rect x="170" y="653" width="23" height="4" fill="#ff3300"/>
<circle cx="483" cy="633.9" r="3" fill="#606060"/>
<text x="451" y="656.5" font-size="13" font-family="Liberation Sans, sans-serif" fill="#000">cvw</text>
<text x="491.5" y="656.5" font-size="13" font-family="Liberation Sans, sans-serif" fill="#000">cve</text></g>
</svg>
</body></html>
